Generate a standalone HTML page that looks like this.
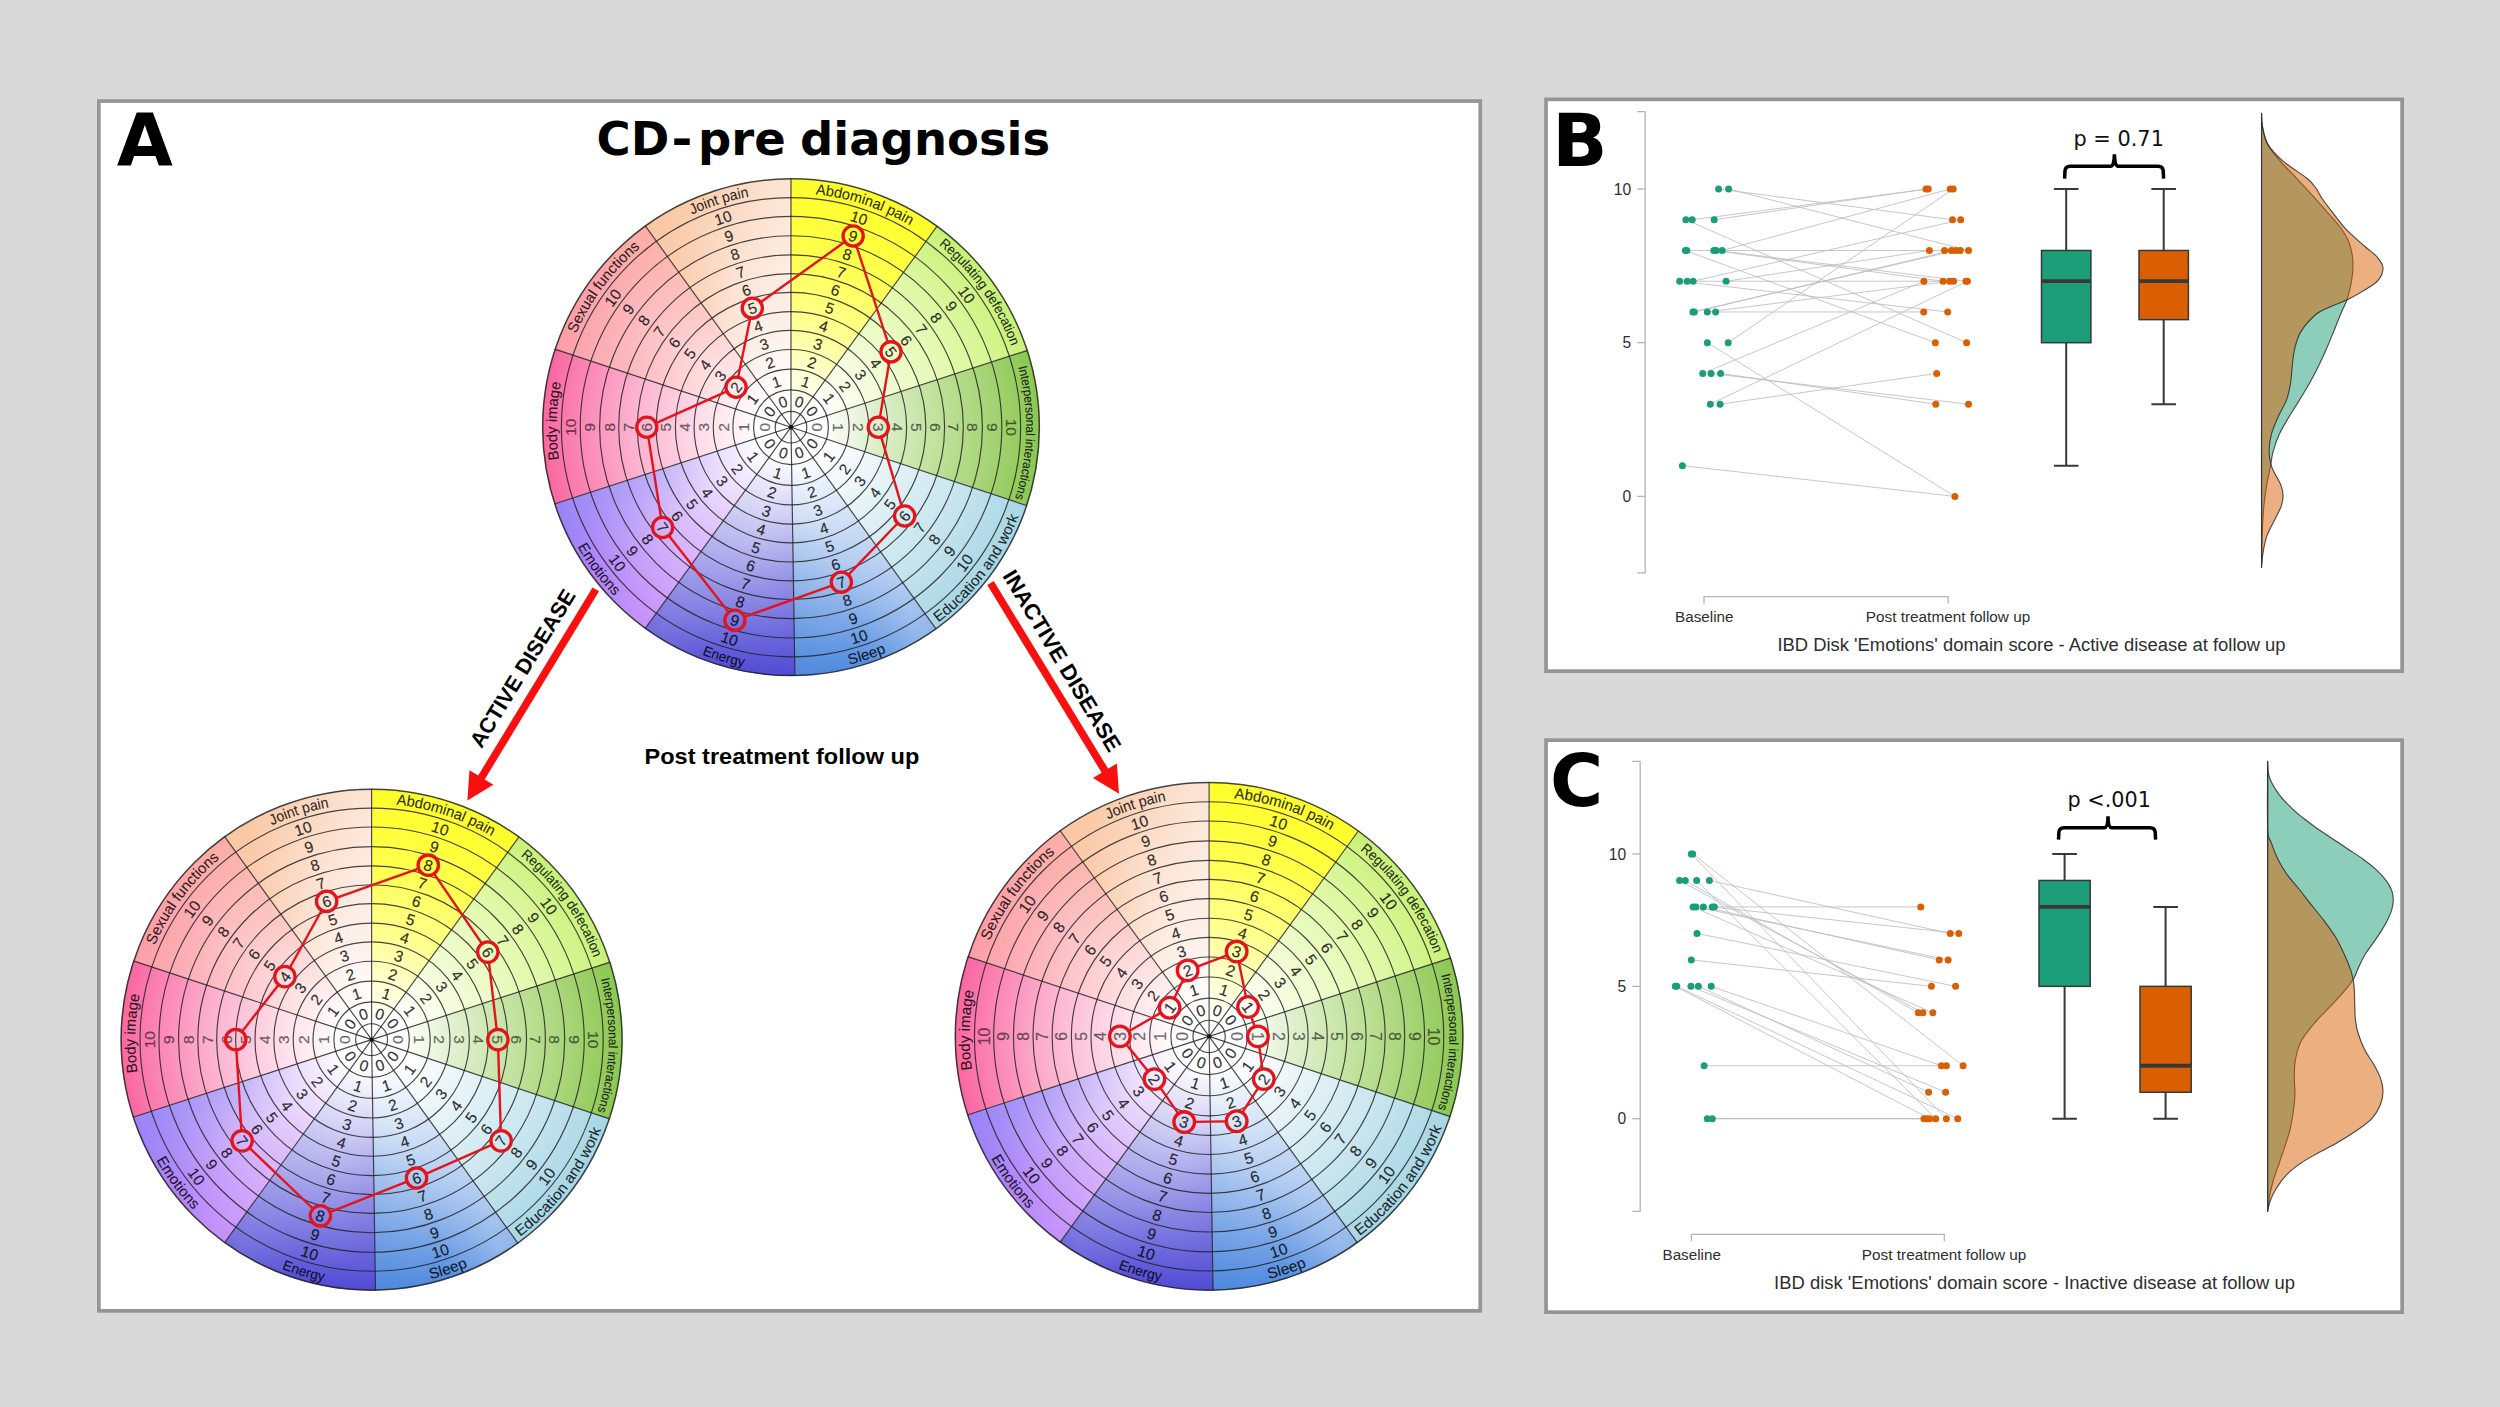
<!DOCTYPE html>
<html lang="en">
<head>
<meta charset="utf-8">
<title>IBD Disk figure</title>
<style>
html,body{margin:0;padding:0;background:#d9d9d9;}
body{width:2500px;height:1407px;overflow:hidden;}
svg{display:block;}
</style>
</head>
<body>
<svg width="2500" height="1407" viewBox="0 0 2500 1407">
<defs>
<radialGradient id="g0_18" gradientUnits="userSpaceOnUse" cx="791" cy="427.2" r="248.75"><stop offset="0" stop-color="#ffffff"/><stop offset="0.08" stop-color="#ffffff"/><stop offset="0.25" stop-color="#ffffc8"/><stop offset="0.45" stop-color="#ffff8a"/><stop offset="0.7" stop-color="#ffff4e"/><stop offset="0.88" stop-color="#ffff34"/><stop offset="1" stop-color="#fdfd2c"/></radialGradient>
<radialGradient id="g0_54" gradientUnits="userSpaceOnUse" cx="791" cy="427.2" r="248.75"><stop offset="0" stop-color="#ffffff"/><stop offset="0.12" stop-color="#ffffff"/><stop offset="0.4" stop-color="#f2fcd6"/><stop offset="0.7" stop-color="#e1f9aa"/><stop offset="1" stop-color="#c8f177"/></radialGradient>
<radialGradient id="g0_90" gradientUnits="userSpaceOnUse" cx="791" cy="427.2" r="248.75"><stop offset="0" stop-color="#ffffff"/><stop offset="0.12" stop-color="#ffffff"/><stop offset="0.35" stop-color="#deefcb"/><stop offset="0.65" stop-color="#b9de90"/><stop offset="1" stop-color="#8cc752"/></radialGradient>
<radialGradient id="g0_126" gradientUnits="userSpaceOnUse" cx="791" cy="427.2" r="248.75"><stop offset="0" stop-color="#ffffff"/><stop offset="0.15" stop-color="#ffffff"/><stop offset="0.4" stop-color="#e8f4f8"/><stop offset="0.7" stop-color="#c9e6ef"/><stop offset="1" stop-color="#a6d6e4"/></radialGradient>
<radialGradient id="g0_162" gradientUnits="userSpaceOnUse" cx="791" cy="427.2" r="248.75"><stop offset="0" stop-color="#ffffff"/><stop offset="0.12" stop-color="#ffffff"/><stop offset="0.35" stop-color="#dae7f8"/><stop offset="0.65" stop-color="#a3c2ef"/><stop offset="1" stop-color="#558fe0"/></radialGradient>
<radialGradient id="g0_198" gradientUnits="userSpaceOnUse" cx="791" cy="427.2" r="248.75"><stop offset="0" stop-color="#ffffff"/><stop offset="0.12" stop-color="#ffffff"/><stop offset="0.35" stop-color="#d8d6f6"/><stop offset="0.65" stop-color="#9c99ea"/><stop offset="1" stop-color="#554fd7"/></radialGradient>
<radialGradient id="g0_234" gradientUnits="userSpaceOnUse" cx="791" cy="427.2" r="248.75"><stop offset="0" stop-color="#ffffff"/><stop offset="0.12" stop-color="#ffffff"/><stop offset="0.35" stop-color="#eddffd"/><stop offset="0.65" stop-color="#d2b5fb"/><stop offset="1" stop-color="#ae80f8"/></radialGradient>
<radialGradient id="g0_270" gradientUnits="userSpaceOnUse" cx="791" cy="427.2" r="248.75"><stop offset="0" stop-color="#ffffff"/><stop offset="0.12" stop-color="#ffffff"/><stop offset="0.35" stop-color="#fee0eb"/><stop offset="0.65" stop-color="#fcb0ce"/><stop offset="0.9" stop-color="#fb7cae"/><stop offset="1" stop-color="#fa66a1"/></radialGradient>
<radialGradient id="g0_306" gradientUnits="userSpaceOnUse" cx="791" cy="427.2" r="248.75"><stop offset="0" stop-color="#ffffff"/><stop offset="0.12" stop-color="#ffffff"/><stop offset="0.35" stop-color="#fee4e5"/><stop offset="0.65" stop-color="#fdc6c9"/><stop offset="1" stop-color="#fca2a8"/></radialGradient>
<radialGradient id="g0_342" gradientUnits="userSpaceOnUse" cx="791" cy="427.2" r="248.75"><stop offset="0" stop-color="#ffffff"/><stop offset="0.12" stop-color="#ffffff"/><stop offset="0.35" stop-color="#fef2ec"/><stop offset="0.65" stop-color="#fde5d7"/><stop offset="1" stop-color="#fbd3b7"/></radialGradient>
<radialGradient id="mg0" gradientUnits="userSpaceOnUse" cx="791" cy="427.2" r="248.75"><stop offset="0.12" stop-color="#000"/><stop offset="0.6" stop-color="#fff"/></radialGradient>
<mask id="mk0" maskUnits="userSpaceOnUse" x="542.25" y="178.45" width="497.5" height="497.5"><circle cx="791" cy="427.2" r="248.75" fill="url(#mg0)"/></mask>
<linearGradient id="t0_342" gradientUnits="userSpaceOnUse" x1="681.6" y1="276.08" x2="791" y2="240.64"><stop offset="0" stop-color="#f9b98c" stop-opacity="0.45"/><stop offset="0.5" stop-color="#f9b98c" stop-opacity="0"/><stop offset="0.5" stop-color="#ffffff" stop-opacity="0"/><stop offset="1" stop-color="#ffffff" stop-opacity="0.35"/></linearGradient>
<linearGradient id="t0_162" gradientUnits="userSpaceOnUse" x1="899.87" y1="578.7" x2="793.93" y2="613.74"><stop offset="0" stop-color="#ffffff" stop-opacity="0.35"/><stop offset="0.5" stop-color="#ffffff" stop-opacity="0"/><stop offset="0.5" stop-color="#3f78da" stop-opacity="0"/><stop offset="1" stop-color="#3f78da" stop-opacity="0.25"/></linearGradient>
<linearGradient id="t0_198" gradientUnits="userSpaceOnUse" x1="793.93" y1="613.74" x2="681.6" y2="578.32"><stop offset="0" stop-color="#4038cc" stop-opacity="0.18"/><stop offset="0.5" stop-color="#4038cc" stop-opacity="0"/><stop offset="0.5" stop-color="#ffffff" stop-opacity="0"/><stop offset="1" stop-color="#ffffff" stop-opacity="0.16"/></linearGradient>
<linearGradient id="t0_234" gradientUnits="userSpaceOnUse" x1="681.6" y1="578.32" x2="613.57" y2="484.85"><stop offset="0" stop-color="#f0b4ff" stop-opacity="0.3"/><stop offset="0.5" stop-color="#f0b4ff" stop-opacity="0"/><stop offset="0.5" stop-color="#7f86f4" stop-opacity="0"/><stop offset="1" stop-color="#7f86f4" stop-opacity="0.4"/></linearGradient>
<linearGradient id="t0_306" gradientUnits="userSpaceOnUse" x1="613.87" y1="368.62" x2="681.6" y2="276.08"><stop offset="0" stop-color="#ff8aa0" stop-opacity="0.18"/><stop offset="0.5" stop-color="#ff8aa0" stop-opacity="0"/><stop offset="0.5" stop-color="#fbc0a0" stop-opacity="0"/><stop offset="1" stop-color="#fbc0a0" stop-opacity="0.3"/></linearGradient>
<path id="p0_18" d="M792.64 192.93A234.27 234.27 0 0 1 929.36 238.15"/>
<path id="p0_54" d="M930.56 238.59A234.63 234.63 0 0 1 1014.52 355.86"/>
<path id="p0_90" d="M1016.38 360.44A235.06 235.06 0 0 1 1012.85 504.89"/>
<path id="p0_126" d="M930.88 627.71A244.48 244.48 0 0 0 1021.74 508"/>
<path id="p0_162" d="M793.13 671.67A244.48 244.48 0 0 0 935.73 624.23"/>
<path id="p0_198" d="M653.83 629.05A244.05 244.05 0 0 0 797.81 671.15"/>
<path id="p0_234" d="M559.22 504.98A244.48 244.48 0 0 0 648.51 625.86"/>
<path id="p0_270" d="M566.26 493.34A234.27 234.27 0 0 1 570.03 349.38"/>
<path id="p0_306" d="M569.29 351.51A234.27 234.27 0 0 1 655.46 236.12"/>
<path id="p0_342" d="M654.79 236.59A234.27 234.27 0 0 1 792.02 192.93"/>
<radialGradient id="g1_18" gradientUnits="userSpaceOnUse" cx="371.6" cy="1039.65" r="250.9"><stop offset="0" stop-color="#ffffff"/><stop offset="0.08" stop-color="#ffffff"/><stop offset="0.25" stop-color="#ffffc8"/><stop offset="0.45" stop-color="#ffff8a"/><stop offset="0.7" stop-color="#ffff4e"/><stop offset="0.88" stop-color="#ffff34"/><stop offset="1" stop-color="#fdfd2c"/></radialGradient>
<radialGradient id="g1_54" gradientUnits="userSpaceOnUse" cx="371.6" cy="1039.65" r="250.9"><stop offset="0" stop-color="#ffffff"/><stop offset="0.12" stop-color="#ffffff"/><stop offset="0.4" stop-color="#f2fcd6"/><stop offset="0.7" stop-color="#e1f9aa"/><stop offset="1" stop-color="#c8f177"/></radialGradient>
<radialGradient id="g1_90" gradientUnits="userSpaceOnUse" cx="371.6" cy="1039.65" r="250.9"><stop offset="0" stop-color="#ffffff"/><stop offset="0.12" stop-color="#ffffff"/><stop offset="0.35" stop-color="#deefcb"/><stop offset="0.65" stop-color="#b9de90"/><stop offset="1" stop-color="#8cc752"/></radialGradient>
<radialGradient id="g1_126" gradientUnits="userSpaceOnUse" cx="371.6" cy="1039.65" r="250.9"><stop offset="0" stop-color="#ffffff"/><stop offset="0.15" stop-color="#ffffff"/><stop offset="0.4" stop-color="#e8f4f8"/><stop offset="0.7" stop-color="#c9e6ef"/><stop offset="1" stop-color="#a6d6e4"/></radialGradient>
<radialGradient id="g1_162" gradientUnits="userSpaceOnUse" cx="371.6" cy="1039.65" r="250.9"><stop offset="0" stop-color="#ffffff"/><stop offset="0.12" stop-color="#ffffff"/><stop offset="0.35" stop-color="#dae7f8"/><stop offset="0.65" stop-color="#a3c2ef"/><stop offset="1" stop-color="#558fe0"/></radialGradient>
<radialGradient id="g1_198" gradientUnits="userSpaceOnUse" cx="371.6" cy="1039.65" r="250.9"><stop offset="0" stop-color="#ffffff"/><stop offset="0.12" stop-color="#ffffff"/><stop offset="0.35" stop-color="#d8d6f6"/><stop offset="0.65" stop-color="#9c99ea"/><stop offset="1" stop-color="#554fd7"/></radialGradient>
<radialGradient id="g1_234" gradientUnits="userSpaceOnUse" cx="371.6" cy="1039.65" r="250.9"><stop offset="0" stop-color="#ffffff"/><stop offset="0.12" stop-color="#ffffff"/><stop offset="0.35" stop-color="#eddffd"/><stop offset="0.65" stop-color="#d2b5fb"/><stop offset="1" stop-color="#ae80f8"/></radialGradient>
<radialGradient id="g1_270" gradientUnits="userSpaceOnUse" cx="371.6" cy="1039.65" r="250.9"><stop offset="0" stop-color="#ffffff"/><stop offset="0.12" stop-color="#ffffff"/><stop offset="0.35" stop-color="#fee0eb"/><stop offset="0.65" stop-color="#fcb0ce"/><stop offset="0.9" stop-color="#fb7cae"/><stop offset="1" stop-color="#fa66a1"/></radialGradient>
<radialGradient id="g1_306" gradientUnits="userSpaceOnUse" cx="371.6" cy="1039.65" r="250.9"><stop offset="0" stop-color="#ffffff"/><stop offset="0.12" stop-color="#ffffff"/><stop offset="0.35" stop-color="#fee4e5"/><stop offset="0.65" stop-color="#fdc6c9"/><stop offset="1" stop-color="#fca2a8"/></radialGradient>
<radialGradient id="g1_342" gradientUnits="userSpaceOnUse" cx="371.6" cy="1039.65" r="250.9"><stop offset="0" stop-color="#ffffff"/><stop offset="0.12" stop-color="#ffffff"/><stop offset="0.35" stop-color="#fef2ec"/><stop offset="0.65" stop-color="#fde5d7"/><stop offset="1" stop-color="#fbd3b7"/></radialGradient>
<radialGradient id="mg1" gradientUnits="userSpaceOnUse" cx="371.6" cy="1039.65" r="250.9"><stop offset="0.12" stop-color="#000"/><stop offset="0.6" stop-color="#fff"/></radialGradient>
<mask id="mk1" maskUnits="userSpaceOnUse" x="120.7" y="788.75" width="501.8" height="501.8"><circle cx="371.6" cy="1039.65" r="250.9" fill="url(#mg1)"/></mask>
<linearGradient id="t1_342" gradientUnits="userSpaceOnUse" x1="261.26" y1="887.22" x2="371.6" y2="851.48"><stop offset="0" stop-color="#f9b98c" stop-opacity="0.45"/><stop offset="0.5" stop-color="#f9b98c" stop-opacity="0"/><stop offset="0.5" stop-color="#ffffff" stop-opacity="0"/><stop offset="1" stop-color="#ffffff" stop-opacity="0.35"/></linearGradient>
<linearGradient id="t1_162" gradientUnits="userSpaceOnUse" x1="481.41" y1="1192.46" x2="374.56" y2="1227.8"><stop offset="0" stop-color="#ffffff" stop-opacity="0.35"/><stop offset="0.5" stop-color="#ffffff" stop-opacity="0"/><stop offset="0.5" stop-color="#3f78da" stop-opacity="0"/><stop offset="1" stop-color="#3f78da" stop-opacity="0.25"/></linearGradient>
<linearGradient id="t1_198" gradientUnits="userSpaceOnUse" x1="374.56" y1="1227.8" x2="261.26" y2="1192.08"><stop offset="0" stop-color="#4038cc" stop-opacity="0.18"/><stop offset="0.5" stop-color="#4038cc" stop-opacity="0"/><stop offset="0.5" stop-color="#ffffff" stop-opacity="0"/><stop offset="1" stop-color="#ffffff" stop-opacity="0.16"/></linearGradient>
<linearGradient id="t1_234" gradientUnits="userSpaceOnUse" x1="261.26" y1="1192.08" x2="192.63" y2="1097.8"><stop offset="0" stop-color="#f0b4ff" stop-opacity="0.3"/><stop offset="0.5" stop-color="#f0b4ff" stop-opacity="0"/><stop offset="0.5" stop-color="#7f86f4" stop-opacity="0"/><stop offset="1" stop-color="#7f86f4" stop-opacity="0.4"/></linearGradient>
<linearGradient id="t1_306" gradientUnits="userSpaceOnUse" x1="192.94" y1="980.56" x2="261.26" y2="887.22"><stop offset="0" stop-color="#ff8aa0" stop-opacity="0.18"/><stop offset="0.5" stop-color="#ff8aa0" stop-opacity="0"/><stop offset="0.5" stop-color="#fbc0a0" stop-opacity="0"/><stop offset="1" stop-color="#fbc0a0" stop-opacity="0.3"/></linearGradient>
<path id="p1_18" d="M373.25 803.36A236.3 236.3 0 0 1 511.16 848.97"/>
<path id="p1_54" d="M512.37 849.41A236.66 236.66 0 0 1 597.06 967.7"/>
<path id="p1_90" d="M598.93 972.31A237.1 237.1 0 0 1 595.37 1118.01"/>
<path id="p1_126" d="M512.68 1241.89A246.59 246.59 0 0 0 604.33 1121.15"/>
<path id="p1_162" d="M373.75 1286.23A246.59 246.59 0 0 0 517.58 1238.38"/>
<path id="p1_198" d="M233.24 1243.24A246.15 246.15 0 0 0 378.47 1285.71"/>
<path id="p1_234" d="M137.82 1118.1A246.59 246.59 0 0 0 227.88 1240.03"/>
<path id="p1_270" d="M144.92 1106.37A236.3 236.3 0 0 1 148.72 961.16"/>
<path id="p1_306" d="M147.98 963.3A236.3 236.3 0 0 1 234.89 846.92"/>
<path id="p1_342" d="M234.21 847.4A236.3 236.3 0 0 1 372.63 803.36"/>
<radialGradient id="g2_18" gradientUnits="userSpaceOnUse" cx="1209.1" cy="1036.4" r="254.2"><stop offset="0" stop-color="#ffffff"/><stop offset="0.08" stop-color="#ffffff"/><stop offset="0.25" stop-color="#ffffc8"/><stop offset="0.45" stop-color="#ffff8a"/><stop offset="0.7" stop-color="#ffff4e"/><stop offset="0.88" stop-color="#ffff34"/><stop offset="1" stop-color="#fdfd2c"/></radialGradient>
<radialGradient id="g2_54" gradientUnits="userSpaceOnUse" cx="1209.1" cy="1036.4" r="254.2"><stop offset="0" stop-color="#ffffff"/><stop offset="0.12" stop-color="#ffffff"/><stop offset="0.4" stop-color="#f2fcd6"/><stop offset="0.7" stop-color="#e1f9aa"/><stop offset="1" stop-color="#c8f177"/></radialGradient>
<radialGradient id="g2_90" gradientUnits="userSpaceOnUse" cx="1209.1" cy="1036.4" r="254.2"><stop offset="0" stop-color="#ffffff"/><stop offset="0.12" stop-color="#ffffff"/><stop offset="0.35" stop-color="#deefcb"/><stop offset="0.65" stop-color="#b9de90"/><stop offset="1" stop-color="#8cc752"/></radialGradient>
<radialGradient id="g2_126" gradientUnits="userSpaceOnUse" cx="1209.1" cy="1036.4" r="254.2"><stop offset="0" stop-color="#ffffff"/><stop offset="0.15" stop-color="#ffffff"/><stop offset="0.4" stop-color="#e8f4f8"/><stop offset="0.7" stop-color="#c9e6ef"/><stop offset="1" stop-color="#a6d6e4"/></radialGradient>
<radialGradient id="g2_162" gradientUnits="userSpaceOnUse" cx="1209.1" cy="1036.4" r="254.2"><stop offset="0" stop-color="#ffffff"/><stop offset="0.12" stop-color="#ffffff"/><stop offset="0.35" stop-color="#dae7f8"/><stop offset="0.65" stop-color="#a3c2ef"/><stop offset="1" stop-color="#558fe0"/></radialGradient>
<radialGradient id="g2_198" gradientUnits="userSpaceOnUse" cx="1209.1" cy="1036.4" r="254.2"><stop offset="0" stop-color="#ffffff"/><stop offset="0.12" stop-color="#ffffff"/><stop offset="0.35" stop-color="#d8d6f6"/><stop offset="0.65" stop-color="#9c99ea"/><stop offset="1" stop-color="#554fd7"/></radialGradient>
<radialGradient id="g2_234" gradientUnits="userSpaceOnUse" cx="1209.1" cy="1036.4" r="254.2"><stop offset="0" stop-color="#ffffff"/><stop offset="0.12" stop-color="#ffffff"/><stop offset="0.35" stop-color="#eddffd"/><stop offset="0.65" stop-color="#d2b5fb"/><stop offset="1" stop-color="#ae80f8"/></radialGradient>
<radialGradient id="g2_270" gradientUnits="userSpaceOnUse" cx="1209.1" cy="1036.4" r="254.2"><stop offset="0" stop-color="#ffffff"/><stop offset="0.12" stop-color="#ffffff"/><stop offset="0.35" stop-color="#fee0eb"/><stop offset="0.65" stop-color="#fcb0ce"/><stop offset="0.9" stop-color="#fb7cae"/><stop offset="1" stop-color="#fa66a1"/></radialGradient>
<radialGradient id="g2_306" gradientUnits="userSpaceOnUse" cx="1209.1" cy="1036.4" r="254.2"><stop offset="0" stop-color="#ffffff"/><stop offset="0.12" stop-color="#ffffff"/><stop offset="0.35" stop-color="#fee4e5"/><stop offset="0.65" stop-color="#fdc6c9"/><stop offset="1" stop-color="#fca2a8"/></radialGradient>
<radialGradient id="g2_342" gradientUnits="userSpaceOnUse" cx="1209.1" cy="1036.4" r="254.2"><stop offset="0" stop-color="#ffffff"/><stop offset="0.12" stop-color="#ffffff"/><stop offset="0.35" stop-color="#fef2ec"/><stop offset="0.65" stop-color="#fde5d7"/><stop offset="1" stop-color="#fbd3b7"/></radialGradient>
<radialGradient id="mg2" gradientUnits="userSpaceOnUse" cx="1209.1" cy="1036.4" r="254.2"><stop offset="0.12" stop-color="#000"/><stop offset="0.6" stop-color="#fff"/></radialGradient>
<mask id="mk2" maskUnits="userSpaceOnUse" x="954.9" y="782.2" width="508.4" height="508.4"><circle cx="1209.1" cy="1036.4" r="254.2" fill="url(#mg2)"/></mask>
<linearGradient id="t2_342" gradientUnits="userSpaceOnUse" x1="1097.31" y1="881.97" x2="1209.1" y2="845.75"><stop offset="0" stop-color="#f9b98c" stop-opacity="0.45"/><stop offset="0.5" stop-color="#f9b98c" stop-opacity="0"/><stop offset="0.5" stop-color="#ffffff" stop-opacity="0"/><stop offset="1" stop-color="#ffffff" stop-opacity="0.35"/></linearGradient>
<linearGradient id="t2_162" gradientUnits="userSpaceOnUse" x1="1320.35" y1="1191.22" x2="1212.09" y2="1227.03"><stop offset="0" stop-color="#ffffff" stop-opacity="0.35"/><stop offset="0.5" stop-color="#ffffff" stop-opacity="0"/><stop offset="0.5" stop-color="#3f78da" stop-opacity="0"/><stop offset="1" stop-color="#3f78da" stop-opacity="0.25"/></linearGradient>
<linearGradient id="t2_198" gradientUnits="userSpaceOnUse" x1="1212.09" y1="1227.03" x2="1097.31" y2="1190.83"><stop offset="0" stop-color="#4038cc" stop-opacity="0.18"/><stop offset="0.5" stop-color="#4038cc" stop-opacity="0"/><stop offset="0.5" stop-color="#ffffff" stop-opacity="0"/><stop offset="1" stop-color="#ffffff" stop-opacity="0.16"/></linearGradient>
<linearGradient id="t2_234" gradientUnits="userSpaceOnUse" x1="1097.31" y1="1190.83" x2="1027.78" y2="1095.31"><stop offset="0" stop-color="#f0b4ff" stop-opacity="0.3"/><stop offset="0.5" stop-color="#f0b4ff" stop-opacity="0"/><stop offset="0.5" stop-color="#7f86f4" stop-opacity="0"/><stop offset="1" stop-color="#7f86f4" stop-opacity="0.4"/></linearGradient>
<linearGradient id="t2_306" gradientUnits="userSpaceOnUse" x1="1028.09" y1="976.54" x2="1097.31" y2="881.97"><stop offset="0" stop-color="#ff8aa0" stop-opacity="0.18"/><stop offset="0.5" stop-color="#ff8aa0" stop-opacity="0"/><stop offset="0.5" stop-color="#fbc0a0" stop-opacity="0"/><stop offset="1" stop-color="#fbc0a0" stop-opacity="0.3"/></linearGradient>
<path id="p2_18" d="M1210.77 797A239.4 239.4 0 0 1 1350.49 843.21"/>
<path id="p2_54" d="M1351.72 843.66A239.77 239.77 0 0 1 1437.52 963.5"/>
<path id="p2_90" d="M1439.42 968.18A240.21 240.21 0 0 1 1435.81 1115.79"/>
<path id="p2_126" d="M1352.04 1241.29A249.83 249.83 0 0 0 1444.89 1118.97"/>
<path id="p2_162" d="M1211.28 1286.22A249.83 249.83 0 0 0 1357 1237.74"/>
<path id="p2_198" d="M1068.93 1242.66A249.38 249.38 0 0 0 1216.06 1285.69"/>
<path id="p2_234" d="M972.25 1115.88A249.83 249.83 0 0 0 1063.49 1239.41"/>
<path id="p2_270" d="M979.44 1103.99A239.4 239.4 0 0 1 983.29 956.88"/>
<path id="p2_306" d="M982.54 959.05A239.4 239.4 0 0 1 1070.59 841.13"/>
<path id="p2_342" d="M1069.91 841.62A239.4 239.4 0 0 1 1210.14 797"/>
</defs>
<rect width="2500" height="1407" fill="#d9d9d9"/>
<rect x="98.85" y="101.05" width="1381.4" height="1209.8" fill="#fff" stroke="#959595" stroke-width="3.7"/>
<rect x="1546.05" y="99.35" width="856.1" height="571.8" fill="#fff" stroke="#959595" stroke-width="3.7"/>
<rect x="1546.05" y="740.15" width="856.1" height="572" fill="#fff" stroke="#959595" stroke-width="3.7"/>
<g font-family="'DejaVu Sans', Verdana, sans-serif" font-weight="bold" fill="#000">
<text x="116.8" y="165.7" font-size="72.5">A</text>
<text x="1552.2" y="165.8" font-size="72.5">B</text>
<text x="1550" y="805.5" font-size="72.5">C</text>
<text y="155" font-size="46.5" xml:space="preserve"><tspan x="596.6">CD</tspan><tspan x="671.6" textLength="21" lengthAdjust="spacingAndGlyphs">-</tspan><tspan x="698">pre </tspan><tspan x="800">diagnosis</tspan></text>
</g>
<path d="M791 427.2L791 178.45A248.75 248.75 0 0 1 937.21 225.96Z" fill="url(#g0_18)"/>
<path d="M791 427.2L937.21 225.96A248.75 248.75 0 0 1 1027.58 350.33Z" fill="url(#g0_54)"/>
<path d="M791 427.2L1027.58 350.33A248.75 248.75 0 0 1 1027.03 505.72Z" fill="url(#g0_90)"/>
<path d="M791 427.2L1027.03 505.72A248.75 248.75 0 0 1 936.16 629.21Z" fill="url(#g0_126)"/>
<path d="M791 427.2L936.16 629.21A248.75 248.75 0 0 1 794.91 675.92Z" fill="url(#g0_162)"/>
<path d="M791 427.2L794.91 675.92A248.75 248.75 0 0 1 645.14 628.7Z" fill="url(#g0_198)"/>
<path d="M791 427.2L645.14 628.7A248.75 248.75 0 0 1 554.42 504.07Z" fill="url(#g0_234)"/>
<path d="M791 427.2L554.42 504.07A248.75 248.75 0 0 1 554.83 349.09Z" fill="url(#g0_270)"/>
<path d="M791 427.2L554.83 349.09A248.75 248.75 0 0 1 645.14 225.7Z" fill="url(#g0_306)"/>
<path d="M791 427.2L645.14 225.7A248.75 248.75 0 0 1 791 178.45Z" fill="url(#g0_342)"/>
<g mask="url(#mk0)">
<path d="M791 427.2L645.14 225.7A248.75 248.75 0 0 1 791 178.45Z" fill="url(#t0_342)"/>
<path d="M791 427.2L936.16 629.21A248.75 248.75 0 0 1 794.91 675.92Z" fill="url(#t0_162)"/>
<path d="M791 427.2L794.91 675.92A248.75 248.75 0 0 1 645.14 628.7Z" fill="url(#t0_198)"/>
<path d="M791 427.2L645.14 628.7A248.75 248.75 0 0 1 554.42 504.07Z" fill="url(#t0_234)"/>
<path d="M791 427.2L554.83 349.09A248.75 248.75 0 0 1 645.14 225.7Z" fill="url(#t0_306)"/>
</g>
<g fill="none" stroke="#1e1e1e" stroke-opacity="0.82" stroke-width="1.15">
<circle cx="791" cy="427.2" r="15.8"/>
<circle cx="791" cy="427.2" r="37.4"/>
<circle cx="791" cy="427.2" r="58.1"/>
<circle cx="791" cy="427.2" r="77.7"/>
<circle cx="791" cy="427.2" r="96.9"/>
<circle cx="791" cy="427.2" r="115.6"/>
<circle cx="791" cy="427.2" r="134.8"/>
<circle cx="791" cy="427.2" r="153.6"/>
<circle cx="791" cy="427.2" r="172.3"/>
<circle cx="791" cy="427.2" r="191.4"/>
<circle cx="791" cy="427.2" r="210.8"/>
<circle cx="791" cy="427.2" r="229.6"/>
<circle cx="791" cy="427.2" r="248.35" stroke-width="1.5"/>
<path d="M791 427.2L791 178.45"/>
<path d="M791 427.2L937.21 225.96"/>
<path d="M791 427.2L1027.58 350.33"/>
<path d="M791 427.2L1027.03 505.72"/>
<path d="M791 427.2L936.16 629.21"/>
<path d="M791 427.2L794.91 675.92"/>
<path d="M791 427.2L645.14 628.7"/>
<path d="M791 427.2L554.42 504.07"/>
<path d="M791 427.2L554.83 349.09"/>
<path d="M791 427.2L645.14 225.7"/>
</g>
<circle cx="791" cy="427.2" r="2.2" fill="#111"/>
<g font-family="'Liberation Sans', Arial, sans-serif" font-size="15.4" text-anchor="middle" fill="#000" fill-opacity="0.8" stroke="#000" stroke-opacity="0.5" stroke-width="0.3">
<text transform="translate(799.22 401.9) rotate(18)" y="5.54">0</text>
<text transform="translate(805.76 381.79) rotate(18)" y="5.54">1</text>
<text transform="translate(811.98 362.62) rotate(18)" y="5.54">2</text>
<text transform="translate(817.98 344.17) rotate(18)" y="5.54">3</text>
<text transform="translate(823.83 326.15) rotate(18)" y="5.54">4</text>
<text transform="translate(829.69 308.13) rotate(18)" y="5.54">5</text>
<text transform="translate(835.56 290.06) rotate(18)" y="5.54">6</text>
<text transform="translate(841.35 272.23) rotate(18)" y="5.54">7</text>
<text transform="translate(847.19 254.25) rotate(18)" y="5.54">8</text>
<text transform="translate(853.14 235.94) rotate(18)" y="5.54">9</text>
<text transform="translate(859.05 217.78) rotate(18)" y="5.54">10</text>
<text transform="translate(812.24 411.19) rotate(54)" y="5.54">0</text>
<text transform="translate(829.13 398.46) rotate(54)" y="5.54">1</text>
<text transform="translate(845.23 386.34) rotate(54)" y="5.54">2</text>
<text transform="translate(860.72 374.66) rotate(54)" y="5.54">3</text>
<text transform="translate(875.86 363.26) rotate(54)" y="5.54">4</text>
<text transform="translate(890.99 351.85) rotate(54)" y="5.54">5</text>
<text transform="translate(906.16 340.42) rotate(54)" y="5.54">6</text>
<text transform="translate(921.14 329.13) rotate(54)" y="5.54">7</text>
<text transform="translate(936.23 317.76) rotate(54)" y="5.54">8</text>
<text transform="translate(951.61 306.17) rotate(54)" y="5.54">9</text>
<text transform="translate(966.86 294.68) rotate(54)" y="5.54">10</text>
<text transform="translate(817.6 427.2) rotate(90)" y="5.54" fill-opacity="0.55">0</text>
<text transform="translate(838.75 427.2) rotate(90)" y="5.54" fill-opacity="0.55">1</text>
<text transform="translate(858.9 427.2) rotate(90)" y="5.54" fill-opacity="0.55">2</text>
<text transform="translate(878.3 427.2) rotate(90)" y="5.54" fill-opacity="0.55">3</text>
<text transform="translate(897.25 427.2) rotate(90)" y="5.54" fill-opacity="0.55">4</text>
<text transform="translate(916.2 427.2) rotate(90)" y="5.54" fill-opacity="0.55">5</text>
<text transform="translate(935.2 427.2) rotate(90)" y="5.54" fill-opacity="0.55">6</text>
<text transform="translate(953.95 427.2) rotate(90)" y="5.54" fill-opacity="0.55">7</text>
<text transform="translate(972.85 427.2) rotate(90)" y="5.54" fill-opacity="0.55">8</text>
<text transform="translate(992.1 427.2) rotate(90)" y="5.54" fill-opacity="0.55">9</text>
<text transform="translate(1011.2 427.2) rotate(90)" y="5.54" fill-opacity="0.55">10</text>
<text transform="translate(811.96 443.58) rotate(-54)" y="5.54">0</text>
<text transform="translate(828.63 456.6) rotate(-54)" y="5.54">1</text>
<text transform="translate(844.51 469) rotate(-54)" y="5.54">2</text>
<text transform="translate(859.79 480.95) rotate(-54)" y="5.54">3</text>
<text transform="translate(874.73 492.61) rotate(-54)" y="5.54">4</text>
<text transform="translate(889.66 504.28) rotate(-54)" y="5.54">5</text>
<text transform="translate(904.63 515.98) rotate(-54)" y="5.54">6</text>
<text transform="translate(919.41 527.52) rotate(-54)" y="5.54">7</text>
<text transform="translate(934.3 539.16) rotate(-54)" y="5.54">8</text>
<text transform="translate(949.47 551.01) rotate(-54)" y="5.54">9</text>
<text transform="translate(964.52 562.77) rotate(-54)" y="5.54">10</text>
<text transform="translate(799.22 452.5) rotate(-18)" y="5.54">0</text>
<text transform="translate(805.76 472.61) rotate(-18)" y="5.54">1</text>
<text transform="translate(811.98 491.78) rotate(-18)" y="5.54">2</text>
<text transform="translate(817.98 510.23) rotate(-18)" y="5.54">3</text>
<text transform="translate(823.83 528.25) rotate(-18)" y="5.54">4</text>
<text transform="translate(829.69 546.27) rotate(-18)" y="5.54">5</text>
<text transform="translate(835.56 564.34) rotate(-18)" y="5.54">6</text>
<text transform="translate(841.35 582.17) rotate(-18)" y="5.54">7</text>
<text transform="translate(847.19 600.15) rotate(-18)" y="5.54">8</text>
<text transform="translate(853.14 618.46) rotate(-18)" y="5.54">9</text>
<text transform="translate(859.05 636.62) rotate(-18)" y="5.54">10</text>
<text transform="translate(783.58 452.74) rotate(18)" y="5.54">0</text>
<text transform="translate(777.68 473.05) rotate(18)" y="5.54">1</text>
<text transform="translate(772.06 492.4) rotate(18)" y="5.54">2</text>
<text transform="translate(766.64 511.03) rotate(18)" y="5.54">3</text>
<text transform="translate(761.36 529.23) rotate(18)" y="5.54">4</text>
<text transform="translate(756.07 547.43) rotate(18)" y="5.54">5</text>
<text transform="translate(750.77 565.67) rotate(18)" y="5.54">6</text>
<text transform="translate(745.54 583.68) rotate(18)" y="5.54">7</text>
<text transform="translate(740.27 601.83) rotate(18)" y="5.54">8</text>
<text transform="translate(734.89 620.32) rotate(18)" y="5.54">9</text>
<text transform="translate(729.57 638.66) rotate(18)" y="5.54">10</text>
<text transform="translate(770.04 443.58) rotate(54)" y="5.54">0</text>
<text transform="translate(753.37 456.6) rotate(54)" y="5.54">1</text>
<text transform="translate(737.49 469) rotate(54)" y="5.54">2</text>
<text transform="translate(722.21 480.95) rotate(54)" y="5.54">3</text>
<text transform="translate(707.27 492.61) rotate(54)" y="5.54">4</text>
<text transform="translate(692.34 504.28) rotate(54)" y="5.54">5</text>
<text transform="translate(677.37 515.98) rotate(54)" y="5.54">6</text>
<text transform="translate(662.59 527.52) rotate(54)" y="5.54">7</text>
<text transform="translate(647.7 539.16) rotate(54)" y="5.54">8</text>
<text transform="translate(632.53 551.01) rotate(54)" y="5.54">9</text>
<text transform="translate(617.48 562.77) rotate(54)" y="5.54">10</text>
<text transform="translate(764.4 427.2) rotate(-90)" y="5.54" fill-opacity="0.55">0</text>
<text transform="translate(743.25 427.2) rotate(-90)" y="5.54" fill-opacity="0.55">1</text>
<text transform="translate(723.1 427.2) rotate(-90)" y="5.54" fill-opacity="0.55">2</text>
<text transform="translate(703.7 427.2) rotate(-90)" y="5.54" fill-opacity="0.55">3</text>
<text transform="translate(684.75 427.2) rotate(-90)" y="5.54" fill-opacity="0.55">4</text>
<text transform="translate(665.8 427.2) rotate(-90)" y="5.54" fill-opacity="0.55">5</text>
<text transform="translate(646.8 427.2) rotate(-90)" y="5.54" fill-opacity="0.55">6</text>
<text transform="translate(628.05 427.2) rotate(-90)" y="5.54" fill-opacity="0.55">7</text>
<text transform="translate(609.15 427.2) rotate(-90)" y="5.54" fill-opacity="0.55">8</text>
<text transform="translate(589.9 427.2) rotate(-90)" y="5.54" fill-opacity="0.55">9</text>
<text transform="translate(570.8 427.2) rotate(-90)" y="5.54" fill-opacity="0.55">10</text>
<text transform="translate(769.48 411.56) rotate(-54)" y="5.54">0</text>
<text transform="translate(752.37 399.13) rotate(-54)" y="5.54">1</text>
<text transform="translate(736.07 387.29) rotate(-54)" y="5.54">2</text>
<text transform="translate(720.37 375.89) rotate(-54)" y="5.54">3</text>
<text transform="translate(705.04 364.75) rotate(-54)" y="5.54">4</text>
<text transform="translate(689.71 353.61) rotate(-54)" y="5.54">5</text>
<text transform="translate(674.34 342.44) rotate(-54)" y="5.54">6</text>
<text transform="translate(659.17 331.42) rotate(-54)" y="5.54">7</text>
<text transform="translate(643.88 320.31) rotate(-54)" y="5.54">8</text>
<text transform="translate(628.31 309) rotate(-54)" y="5.54">9</text>
<text transform="translate(612.85 297.77) rotate(-54)" y="5.54">10</text>
<text transform="translate(782.78 401.9) rotate(-18)" y="5.54">0</text>
<text transform="translate(776.24 381.79) rotate(-18)" y="5.54">1</text>
<text transform="translate(770.02 362.62) rotate(-18)" y="5.54">2</text>
<text transform="translate(764.02 344.17) rotate(-18)" y="5.54">3</text>
<text transform="translate(758.17 326.15) rotate(-18)" y="5.54">4</text>
<text transform="translate(752.31 308.13) rotate(-18)" y="5.54">5</text>
<text transform="translate(746.44 290.06) rotate(-18)" y="5.54">6</text>
<text transform="translate(740.65 272.23) rotate(-18)" y="5.54">7</text>
<text transform="translate(734.81 254.25) rotate(-18)" y="5.54">8</text>
<text transform="translate(728.86 235.94) rotate(-18)" y="5.54">9</text>
<text transform="translate(722.95 217.78) rotate(-18)" y="5.54">10</text>
</g>
<g font-family="'Liberation Sans', Arial, sans-serif" font-size="14.8" fill="#000" fill-opacity="0.84" stroke="#000" stroke-opacity="0.4" stroke-width="0.25">
<text text-anchor="middle" font-size="14.8" textLength="100.58" lengthAdjust="spacingAndGlyphs"><textPath href="#p0_18" startOffset="50%" textLength="100.58" lengthAdjust="spacingAndGlyphs">Abdominal pain</textPath></text>
<text text-anchor="middle" font-size="13.8" textLength="126.13" lengthAdjust="spacingAndGlyphs"><textPath href="#p0_54" startOffset="50%" textLength="126.13" lengthAdjust="spacingAndGlyphs">Regulating defecation</textPath></text>
<text text-anchor="middle" font-size="12.6" textLength="132.93" lengthAdjust="spacingAndGlyphs"><textPath href="#p0_90" startOffset="50%" textLength="132.93" lengthAdjust="spacingAndGlyphs">Interpersonal interactions</textPath></text>
<text text-anchor="middle" font-size="14.8" textLength="134.84" lengthAdjust="spacingAndGlyphs"><textPath href="#p0_126" startOffset="50%" textLength="134.84" lengthAdjust="spacingAndGlyphs">Education and work</textPath></text>
<text text-anchor="middle" font-size="14.8" textLength="39.26" lengthAdjust="spacingAndGlyphs"><textPath href="#p0_162" startOffset="50%" textLength="39.26" lengthAdjust="spacingAndGlyphs">Sleep</textPath></text>
<text text-anchor="middle" font-size="13.6" textLength="43.45" lengthAdjust="spacingAndGlyphs"><textPath href="#p0_198" startOffset="50%" textLength="43.45" lengthAdjust="spacingAndGlyphs">Energy</textPath></text>
<text text-anchor="middle" font-size="14.8" textLength="61.87" lengthAdjust="spacingAndGlyphs"><textPath href="#p0_234" startOffset="50%" textLength="61.87" lengthAdjust="spacingAndGlyphs">Emotions</textPath></text>
<text text-anchor="middle" font-size="14.8" textLength="77.69" lengthAdjust="spacingAndGlyphs"><textPath href="#p0_270" startOffset="50%" textLength="77.69" lengthAdjust="spacingAndGlyphs">Body image</textPath></text>
<text text-anchor="middle" font-size="14.8" textLength="108.35" lengthAdjust="spacingAndGlyphs"><textPath href="#p0_306" startOffset="50%" textLength="108.35" lengthAdjust="spacingAndGlyphs">Sexual functions</textPath></text>
<text text-anchor="middle" font-size="14.8" textLength="60.11" lengthAdjust="spacingAndGlyphs"><textPath href="#p0_342" startOffset="50%" textLength="60.11" lengthAdjust="spacingAndGlyphs">Joint pain</textPath></text>
</g>
<g fill="none" stroke="#e5141c" stroke-linecap="round">
<path stroke-width="2.4" d="M856.28 245.54L887.85 342.25"/>
<path stroke-width="2.4" d="M889.31 361.81L879.98 417.24"/>
<path stroke-width="2.4" d="M881.17 436.88L901.76 506.3"/>
<path stroke-width="2.4" d="M897.65 523.28L848.33 574.87"/>
<path stroke-width="2.4" d="M831.85 585.58L744.4 616.91"/>
<path stroke-width="2.4" d="M728.69 612.35L668.8 535.49"/>
<path stroke-width="2.4" d="M661.02 517.54L648.37 437.18"/>
<path stroke-width="2.4" d="M656.02 423.08L726.85 391.41"/>
<path stroke-width="2.4" d="M738.1 377.4L750.28 318.02"/>
<path stroke-width="2.4" d="M760.52 302.25L844.93 241.82"/>
<circle cx="853.14" cy="235.94" r="10.1" stroke-width="3.3"/>
<circle cx="890.99" cy="351.85" r="10.1" stroke-width="3.3"/>
<circle cx="878.3" cy="427.2" r="10.1" stroke-width="3.3"/>
<circle cx="904.63" cy="515.98" r="10.1" stroke-width="3.3"/>
<circle cx="841.35" cy="582.17" r="10.1" stroke-width="3.3"/>
<circle cx="734.89" cy="620.32" r="10.1" stroke-width="3.3"/>
<circle cx="662.59" cy="527.52" r="10.1" stroke-width="3.3"/>
<circle cx="646.8" cy="427.2" r="10.1" stroke-width="3.3"/>
<circle cx="736.07" cy="387.29" r="10.1" stroke-width="3.3"/>
<circle cx="752.31" cy="308.13" r="10.1" stroke-width="3.3"/>
</g>
<path d="M371.6 1039.65L371.6 788.75A250.9 250.9 0 0 1 519.08 836.67Z" fill="url(#g1_18)"/>
<path d="M371.6 1039.65L519.08 836.67A250.9 250.9 0 0 1 610.22 962.12Z" fill="url(#g1_54)"/>
<path d="M371.6 1039.65L610.22 962.12A250.9 250.9 0 0 1 609.67 1118.85Z" fill="url(#g1_90)"/>
<path d="M371.6 1039.65L609.67 1118.85A250.9 250.9 0 0 1 518.01 1243.4Z" fill="url(#g1_126)"/>
<path d="M371.6 1039.65L518.01 1243.4A250.9 250.9 0 0 1 375.54 1290.52Z" fill="url(#g1_162)"/>
<path d="M371.6 1039.65L375.54 1290.52A250.9 250.9 0 0 1 224.48 1242.89Z" fill="url(#g1_198)"/>
<path d="M371.6 1039.65L224.48 1242.89A250.9 250.9 0 0 1 132.98 1117.18Z" fill="url(#g1_234)"/>
<path d="M371.6 1039.65L132.98 1117.18A250.9 250.9 0 0 1 133.39 960.87Z" fill="url(#g1_270)"/>
<path d="M371.6 1039.65L133.39 960.87A250.9 250.9 0 0 1 224.48 836.41Z" fill="url(#g1_306)"/>
<path d="M371.6 1039.65L224.48 836.41A250.9 250.9 0 0 1 371.6 788.75Z" fill="url(#g1_342)"/>
<g mask="url(#mk1)">
<path d="M371.6 1039.65L224.48 836.41A250.9 250.9 0 0 1 371.6 788.75Z" fill="url(#t1_342)"/>
<path d="M371.6 1039.65L518.01 1243.4A250.9 250.9 0 0 1 375.54 1290.52Z" fill="url(#t1_162)"/>
<path d="M371.6 1039.65L375.54 1290.52A250.9 250.9 0 0 1 224.48 1242.89Z" fill="url(#t1_198)"/>
<path d="M371.6 1039.65L224.48 1242.89A250.9 250.9 0 0 1 132.98 1117.18Z" fill="url(#t1_234)"/>
<path d="M371.6 1039.65L133.39 960.87A250.9 250.9 0 0 1 224.48 836.41Z" fill="url(#t1_306)"/>
</g>
<g fill="none" stroke="#1e1e1e" stroke-opacity="0.82" stroke-width="1.15">
<circle cx="371.6" cy="1039.65" r="15.94"/>
<circle cx="371.6" cy="1039.65" r="37.72"/>
<circle cx="371.6" cy="1039.65" r="58.6"/>
<circle cx="371.6" cy="1039.65" r="78.37"/>
<circle cx="371.6" cy="1039.65" r="97.74"/>
<circle cx="371.6" cy="1039.65" r="116.6"/>
<circle cx="371.6" cy="1039.65" r="135.97"/>
<circle cx="371.6" cy="1039.65" r="154.93"/>
<circle cx="371.6" cy="1039.65" r="173.79"/>
<circle cx="371.6" cy="1039.65" r="193.05"/>
<circle cx="371.6" cy="1039.65" r="212.62"/>
<circle cx="371.6" cy="1039.65" r="231.58"/>
<circle cx="371.6" cy="1039.65" r="250.5" stroke-width="1.5"/>
<path d="M371.6 1039.65L371.6 788.75"/>
<path d="M371.6 1039.65L519.08 836.67"/>
<path d="M371.6 1039.65L610.22 962.12"/>
<path d="M371.6 1039.65L609.67 1118.85"/>
<path d="M371.6 1039.65L518.01 1243.4"/>
<path d="M371.6 1039.65L375.54 1290.52"/>
<path d="M371.6 1039.65L224.48 1242.89"/>
<path d="M371.6 1039.65L132.98 1117.18"/>
<path d="M371.6 1039.65L133.39 960.87"/>
<path d="M371.6 1039.65L224.48 836.41"/>
</g>
<circle cx="371.6" cy="1039.65" r="2.2" fill="#111"/>
<g font-family="'Liberation Sans', Arial, sans-serif" font-size="15.53" text-anchor="middle" fill="#000" fill-opacity="0.8" stroke="#000" stroke-opacity="0.5" stroke-width="0.3">
<text transform="translate(379.89 1014.13) rotate(18)" y="5.59">0</text>
<text transform="translate(386.48 993.84) rotate(18)" y="5.59">1</text>
<text transform="translate(392.76 974.52) rotate(18)" y="5.59">2</text>
<text transform="translate(398.81 955.91) rotate(18)" y="5.59">3</text>
<text transform="translate(404.72 937.73) rotate(18)" y="5.59">4</text>
<text transform="translate(410.62 919.55) rotate(18)" y="5.59">5</text>
<text transform="translate(416.55 901.32) rotate(18)" y="5.59">6</text>
<text transform="translate(422.39 883.34) rotate(18)" y="5.59">7</text>
<text transform="translate(428.28 865.21) rotate(18)" y="5.59">8</text>
<text transform="translate(434.28 846.74) rotate(18)" y="5.59">9</text>
<text transform="translate(440.23 828.42) rotate(18)" y="5.59">10</text>
<text transform="translate(393.03 1023.5) rotate(54)" y="5.59">0</text>
<text transform="translate(410.06 1010.66) rotate(54)" y="5.59">1</text>
<text transform="translate(426.3 998.43) rotate(54)" y="5.59">2</text>
<text transform="translate(441.92 986.66) rotate(54)" y="5.59">3</text>
<text transform="translate(457.19 975.15) rotate(54)" y="5.59">4</text>
<text transform="translate(472.45 963.65) rotate(54)" y="5.59">5</text>
<text transform="translate(487.76 952.12) rotate(54)" y="5.59">6</text>
<text transform="translate(502.86 940.74) rotate(54)" y="5.59">7</text>
<text transform="translate(518.09 929.26) rotate(54)" y="5.59">8</text>
<text transform="translate(533.59 917.58) rotate(54)" y="5.59">9</text>
<text transform="translate(548.98 905.98) rotate(54)" y="5.59">10</text>
<text transform="translate(398.43 1039.65) rotate(90)" y="5.59" fill-opacity="0.55">0</text>
<text transform="translate(419.76 1039.65) rotate(90)" y="5.59" fill-opacity="0.55">1</text>
<text transform="translate(440.09 1039.65) rotate(90)" y="5.59" fill-opacity="0.55">2</text>
<text transform="translate(459.65 1039.65) rotate(90)" y="5.59" fill-opacity="0.55">3</text>
<text transform="translate(478.77 1039.65) rotate(90)" y="5.59" fill-opacity="0.55">4</text>
<text transform="translate(497.88 1039.65) rotate(90)" y="5.59" fill-opacity="0.55">5</text>
<text transform="translate(517.05 1039.65) rotate(90)" y="5.59" fill-opacity="0.55">6</text>
<text transform="translate(535.96 1039.65) rotate(90)" y="5.59" fill-opacity="0.55">7</text>
<text transform="translate(555.02 1039.65) rotate(90)" y="5.59" fill-opacity="0.55">8</text>
<text transform="translate(574.44 1039.65) rotate(90)" y="5.59" fill-opacity="0.55">9</text>
<text transform="translate(593.7 1039.65) rotate(90)" y="5.59" fill-opacity="0.55">10</text>
<text transform="translate(392.74 1056.17) rotate(-54)" y="5.59">0</text>
<text transform="translate(409.55 1069.3) rotate(-54)" y="5.59">1</text>
<text transform="translate(425.57 1081.81) rotate(-54)" y="5.59">2</text>
<text transform="translate(440.99 1093.86) rotate(-54)" y="5.59">3</text>
<text transform="translate(456.05 1105.63) rotate(-54)" y="5.59">4</text>
<text transform="translate(471.11 1117.4) rotate(-54)" y="5.59">5</text>
<text transform="translate(486.21 1129.2) rotate(-54)" y="5.59">6</text>
<text transform="translate(501.12 1140.84) rotate(-54)" y="5.59">7</text>
<text transform="translate(516.14 1152.58) rotate(-54)" y="5.59">8</text>
<text transform="translate(531.44 1164.53) rotate(-54)" y="5.59">9</text>
<text transform="translate(546.62 1176.39) rotate(-54)" y="5.59">10</text>
<text transform="translate(379.89 1065.17) rotate(-18)" y="5.59">0</text>
<text transform="translate(386.48 1085.46) rotate(-18)" y="5.59">1</text>
<text transform="translate(392.76 1104.78) rotate(-18)" y="5.59">2</text>
<text transform="translate(398.81 1123.39) rotate(-18)" y="5.59">3</text>
<text transform="translate(404.72 1141.57) rotate(-18)" y="5.59">4</text>
<text transform="translate(410.62 1159.75) rotate(-18)" y="5.59">5</text>
<text transform="translate(416.55 1177.98) rotate(-18)" y="5.59">6</text>
<text transform="translate(422.39 1195.96) rotate(-18)" y="5.59">7</text>
<text transform="translate(428.28 1214.09) rotate(-18)" y="5.59">8</text>
<text transform="translate(434.28 1232.56) rotate(-18)" y="5.59">9</text>
<text transform="translate(440.23 1250.88) rotate(-18)" y="5.59">10</text>
<text transform="translate(364.11 1065.41) rotate(18)" y="5.59">0</text>
<text transform="translate(358.16 1085.9) rotate(18)" y="5.59">1</text>
<text transform="translate(352.49 1105.42) rotate(18)" y="5.59">2</text>
<text transform="translate(347.03 1124.21) rotate(18)" y="5.59">3</text>
<text transform="translate(341.7 1142.56) rotate(18)" y="5.59">4</text>
<text transform="translate(336.37 1160.92) rotate(18)" y="5.59">5</text>
<text transform="translate(331.02 1179.32) rotate(18)" y="5.59">6</text>
<text transform="translate(325.75 1197.48) rotate(18)" y="5.59">7</text>
<text transform="translate(320.43 1215.79) rotate(18)" y="5.59">8</text>
<text transform="translate(315.01 1234.43) rotate(18)" y="5.59">9</text>
<text transform="translate(309.64 1252.93) rotate(18)" y="5.59">10</text>
<text transform="translate(350.46 1056.17) rotate(54)" y="5.59">0</text>
<text transform="translate(333.65 1069.3) rotate(54)" y="5.59">1</text>
<text transform="translate(317.63 1081.81) rotate(54)" y="5.59">2</text>
<text transform="translate(302.21 1093.86) rotate(54)" y="5.59">3</text>
<text transform="translate(287.15 1105.63) rotate(54)" y="5.59">4</text>
<text transform="translate(272.09 1117.4) rotate(54)" y="5.59">5</text>
<text transform="translate(256.99 1129.2) rotate(54)" y="5.59">6</text>
<text transform="translate(242.08 1140.84) rotate(54)" y="5.59">7</text>
<text transform="translate(227.06 1152.58) rotate(54)" y="5.59">8</text>
<text transform="translate(211.76 1164.53) rotate(54)" y="5.59">9</text>
<text transform="translate(196.58 1176.39) rotate(54)" y="5.59">10</text>
<text transform="translate(344.77 1039.65) rotate(-90)" y="5.59" fill-opacity="0.55">0</text>
<text transform="translate(323.44 1039.65) rotate(-90)" y="5.59" fill-opacity="0.55">1</text>
<text transform="translate(303.11 1039.65) rotate(-90)" y="5.59" fill-opacity="0.55">2</text>
<text transform="translate(283.55 1039.65) rotate(-90)" y="5.59" fill-opacity="0.55">3</text>
<text transform="translate(264.43 1039.65) rotate(-90)" y="5.59" fill-opacity="0.55">4</text>
<text transform="translate(245.32 1039.65) rotate(-90)" y="5.59" fill-opacity="0.55">5</text>
<text transform="translate(226.15 1039.65) rotate(-90)" y="5.59" fill-opacity="0.55">6</text>
<text transform="translate(207.24 1039.65) rotate(-90)" y="5.59" fill-opacity="0.55">7</text>
<text transform="translate(188.18 1039.65) rotate(-90)" y="5.59" fill-opacity="0.55">8</text>
<text transform="translate(168.76 1039.65) rotate(-90)" y="5.59" fill-opacity="0.55">9</text>
<text transform="translate(149.5 1039.65) rotate(-90)" y="5.59" fill-opacity="0.55">10</text>
<text transform="translate(349.89 1023.88) rotate(-54)" y="5.59">0</text>
<text transform="translate(332.64 1011.34) rotate(-54)" y="5.59">1</text>
<text transform="translate(316.19 999.39) rotate(-54)" y="5.59">2</text>
<text transform="translate(300.36 987.89) rotate(-54)" y="5.59">3</text>
<text transform="translate(284.9 976.66) rotate(-54)" y="5.59">4</text>
<text transform="translate(269.44 965.42) rotate(-54)" y="5.59">5</text>
<text transform="translate(253.93 954.16) rotate(-54)" y="5.59">6</text>
<text transform="translate(238.63 943.04) rotate(-54)" y="5.59">7</text>
<text transform="translate(223.21 931.84) rotate(-54)" y="5.59">8</text>
<text transform="translate(207.5 920.42) rotate(-54)" y="5.59">9</text>
<text transform="translate(191.91 909.1) rotate(-54)" y="5.59">10</text>
<text transform="translate(363.31 1014.13) rotate(-18)" y="5.59">0</text>
<text transform="translate(356.72 993.84) rotate(-18)" y="5.59">1</text>
<text transform="translate(350.44 974.52) rotate(-18)" y="5.59">2</text>
<text transform="translate(344.39 955.91) rotate(-18)" y="5.59">3</text>
<text transform="translate(338.48 937.73) rotate(-18)" y="5.59">4</text>
<text transform="translate(332.58 919.55) rotate(-18)" y="5.59">5</text>
<text transform="translate(326.65 901.32) rotate(-18)" y="5.59">6</text>
<text transform="translate(320.81 883.34) rotate(-18)" y="5.59">7</text>
<text transform="translate(314.92 865.21) rotate(-18)" y="5.59">8</text>
<text transform="translate(308.92 846.74) rotate(-18)" y="5.59">9</text>
<text transform="translate(302.97 828.42) rotate(-18)" y="5.59">10</text>
</g>
<g font-family="'Liberation Sans', Arial, sans-serif" font-size="14.93" fill="#000" fill-opacity="0.84" stroke="#000" stroke-opacity="0.4" stroke-width="0.25">
<text text-anchor="middle" font-size="14.93" textLength="101.45" lengthAdjust="spacingAndGlyphs"><textPath href="#p1_18" startOffset="50%" textLength="101.45" lengthAdjust="spacingAndGlyphs">Abdominal pain</textPath></text>
<text text-anchor="middle" font-size="13.92" textLength="127.22" lengthAdjust="spacingAndGlyphs"><textPath href="#p1_54" startOffset="50%" textLength="127.22" lengthAdjust="spacingAndGlyphs">Regulating defecation</textPath></text>
<text text-anchor="middle" font-size="12.71" textLength="134.07" lengthAdjust="spacingAndGlyphs"><textPath href="#p1_90" startOffset="50%" textLength="134.07" lengthAdjust="spacingAndGlyphs">Interpersonal interactions</textPath></text>
<text text-anchor="middle" font-size="14.93" textLength="136" lengthAdjust="spacingAndGlyphs"><textPath href="#p1_126" startOffset="50%" textLength="136" lengthAdjust="spacingAndGlyphs">Education and work</textPath></text>
<text text-anchor="middle" font-size="14.93" textLength="39.59" lengthAdjust="spacingAndGlyphs"><textPath href="#p1_162" startOffset="50%" textLength="39.59" lengthAdjust="spacingAndGlyphs">Sleep</textPath></text>
<text text-anchor="middle" font-size="13.72" textLength="43.82" lengthAdjust="spacingAndGlyphs"><textPath href="#p1_198" startOffset="50%" textLength="43.82" lengthAdjust="spacingAndGlyphs">Energy</textPath></text>
<text text-anchor="middle" font-size="14.93" textLength="62.4" lengthAdjust="spacingAndGlyphs"><textPath href="#p1_234" startOffset="50%" textLength="62.4" lengthAdjust="spacingAndGlyphs">Emotions</textPath></text>
<text text-anchor="middle" font-size="14.93" textLength="78.36" lengthAdjust="spacingAndGlyphs"><textPath href="#p1_270" startOffset="50%" textLength="78.36" lengthAdjust="spacingAndGlyphs">Body image</textPath></text>
<text text-anchor="middle" font-size="14.93" textLength="109.29" lengthAdjust="spacingAndGlyphs"><textPath href="#p1_306" startOffset="50%" textLength="109.29" lengthAdjust="spacingAndGlyphs">Sexual functions</textPath></text>
<text text-anchor="middle" font-size="14.93" textLength="60.63" lengthAdjust="spacingAndGlyphs"><textPath href="#p1_342" startOffset="50%" textLength="60.63" lengthAdjust="spacingAndGlyphs">Joint pain</textPath></text>
</g>
<g fill="none" stroke="#e5141c" stroke-linecap="round">
<path stroke-width="2.4" d="M434.03 873.61L482.01 943.71"/>
<path stroke-width="2.4" d="M488.93 962.24L496.71 1029.53"/>
<path stroke-width="2.4" d="M498.21 1049.83L500.79 1130.66"/>
<path stroke-width="2.4" d="M491.79 1144.94L425.87 1173.88"/>
<path stroke-width="2.4" d="M407.07 1181.71L329.91 1212.06"/>
<path stroke-width="2.4" d="M313.07 1208.75L249.44 1147.88"/>
<path stroke-width="2.4" d="M241.45 1130.67L236.37 1049.82"/>
<path stroke-width="2.4" d="M242 1031.62L278.63 984.69"/>
<path stroke-width="2.4" d="M289.84 967.75L321.72 910.23"/>
<path stroke-width="2.4" d="M336.25 897.91L418.68 868.62"/>
<circle cx="428.28" cy="865.21" r="10.19" stroke-width="3.3"/>
<circle cx="487.76" cy="952.12" r="10.19" stroke-width="3.3"/>
<circle cx="497.88" cy="1039.65" r="10.19" stroke-width="3.3"/>
<circle cx="501.12" cy="1140.84" r="10.19" stroke-width="3.3"/>
<circle cx="416.55" cy="1177.98" r="10.19" stroke-width="3.3"/>
<circle cx="320.43" cy="1215.79" r="10.19" stroke-width="3.3"/>
<circle cx="242.08" cy="1140.84" r="10.19" stroke-width="3.3"/>
<circle cx="235.74" cy="1039.65" r="10.19" stroke-width="3.3"/>
<circle cx="284.9" cy="976.66" r="10.19" stroke-width="3.3"/>
<circle cx="326.65" cy="901.32" r="10.19" stroke-width="3.3"/>
</g>
<path d="M1209.1 1036.4L1209.1 782.2A254.2 254.2 0 0 1 1358.52 830.75Z" fill="url(#g2_18)"/>
<path d="M1209.1 1036.4L1358.52 830.75A254.2 254.2 0 0 1 1450.86 957.85Z" fill="url(#g2_54)"/>
<path d="M1209.1 1036.4L1450.86 957.85A254.2 254.2 0 0 1 1450.3 1116.64Z" fill="url(#g2_90)"/>
<path d="M1209.1 1036.4L1450.3 1116.64A254.2 254.2 0 0 1 1357.44 1242.83Z" fill="url(#g2_126)"/>
<path d="M1209.1 1036.4L1357.44 1242.83A254.2 254.2 0 0 1 1213.09 1290.57Z" fill="url(#g2_162)"/>
<path d="M1209.1 1036.4L1213.09 1290.57A254.2 254.2 0 0 1 1060.04 1242.31Z" fill="url(#g2_198)"/>
<path d="M1209.1 1036.4L1060.04 1242.31A254.2 254.2 0 0 1 967.34 1114.95Z" fill="url(#g2_234)"/>
<path d="M1209.1 1036.4L967.34 1114.95A254.2 254.2 0 0 1 967.76 956.58Z" fill="url(#g2_270)"/>
<path d="M1209.1 1036.4L967.76 956.58A254.2 254.2 0 0 1 1060.04 830.49Z" fill="url(#g2_306)"/>
<path d="M1209.1 1036.4L1060.04 830.49A254.2 254.2 0 0 1 1209.1 782.2Z" fill="url(#g2_342)"/>
<g mask="url(#mk2)">
<path d="M1209.1 1036.4L1060.04 830.49A254.2 254.2 0 0 1 1209.1 782.2Z" fill="url(#t2_342)"/>
<path d="M1209.1 1036.4L1357.44 1242.83A254.2 254.2 0 0 1 1213.09 1290.57Z" fill="url(#t2_162)"/>
<path d="M1209.1 1036.4L1213.09 1290.57A254.2 254.2 0 0 1 1060.04 1242.31Z" fill="url(#t2_198)"/>
<path d="M1209.1 1036.4L1060.04 1242.31A254.2 254.2 0 0 1 967.34 1114.95Z" fill="url(#t2_234)"/>
<path d="M1209.1 1036.4L967.76 956.58A254.2 254.2 0 0 1 1060.04 830.49Z" fill="url(#t2_306)"/>
</g>
<g fill="none" stroke="#1e1e1e" stroke-opacity="0.82" stroke-width="1.15">
<circle cx="1209.1" cy="1036.4" r="16.15"/>
<circle cx="1209.1" cy="1036.4" r="38.22"/>
<circle cx="1209.1" cy="1036.4" r="59.37"/>
<circle cx="1209.1" cy="1036.4" r="79.4"/>
<circle cx="1209.1" cy="1036.4" r="99.02"/>
<circle cx="1209.1" cy="1036.4" r="118.13"/>
<circle cx="1209.1" cy="1036.4" r="137.75"/>
<circle cx="1209.1" cy="1036.4" r="156.97"/>
<circle cx="1209.1" cy="1036.4" r="176.08"/>
<circle cx="1209.1" cy="1036.4" r="195.59"/>
<circle cx="1209.1" cy="1036.4" r="215.42"/>
<circle cx="1209.1" cy="1036.4" r="234.63"/>
<circle cx="1209.1" cy="1036.4" r="253.8" stroke-width="1.5"/>
<path d="M1209.1 1036.4L1209.1 782.2"/>
<path d="M1209.1 1036.4L1358.52 830.75"/>
<path d="M1209.1 1036.4L1450.86 957.85"/>
<path d="M1209.1 1036.4L1450.3 1116.64"/>
<path d="M1209.1 1036.4L1357.44 1242.83"/>
<path d="M1209.1 1036.4L1213.09 1290.57"/>
<path d="M1209.1 1036.4L1060.04 1242.31"/>
<path d="M1209.1 1036.4L967.34 1114.95"/>
<path d="M1209.1 1036.4L967.76 956.58"/>
<path d="M1209.1 1036.4L1060.04 830.49"/>
</g>
<circle cx="1209.1" cy="1036.4" r="2.2" fill="#111"/>
<g font-family="'Liberation Sans', Arial, sans-serif" font-size="15.74" text-anchor="middle" fill="#000" fill-opacity="0.8" stroke="#000" stroke-opacity="0.5" stroke-width="0.3">
<text transform="translate(1217.5 1010.55) rotate(18)" y="5.67">0</text>
<text transform="translate(1224.18 989.99) rotate(18)" y="5.67">1</text>
<text transform="translate(1230.54 970.41) rotate(18)" y="5.67">2</text>
<text transform="translate(1236.67 951.55) rotate(18)" y="5.67">3</text>
<text transform="translate(1242.65 933.14) rotate(18)" y="5.67">4</text>
<text transform="translate(1248.64 914.72) rotate(18)" y="5.67">5</text>
<text transform="translate(1254.64 896.25) rotate(18)" y="5.67">6</text>
<text transform="translate(1260.56 878.03) rotate(18)" y="5.67">7</text>
<text transform="translate(1266.53 859.66) rotate(18)" y="5.67">8</text>
<text transform="translate(1272.6 840.95) rotate(18)" y="5.67">9</text>
<text transform="translate(1278.64 822.39) rotate(18)" y="5.67">10</text>
<text transform="translate(1230.81 1020.04) rotate(54)" y="5.67">0</text>
<text transform="translate(1248.07 1007.03) rotate(54)" y="5.67">1</text>
<text transform="translate(1264.52 994.64) rotate(54)" y="5.67">2</text>
<text transform="translate(1280.35 982.71) rotate(54)" y="5.67">3</text>
<text transform="translate(1295.81 971.06) rotate(54)" y="5.67">4</text>
<text transform="translate(1311.28 959.4) rotate(54)" y="5.67">5</text>
<text transform="translate(1326.79 947.72) rotate(54)" y="5.67">6</text>
<text transform="translate(1342.09 936.19) rotate(54)" y="5.67">7</text>
<text transform="translate(1357.51 924.56) rotate(54)" y="5.67">8</text>
<text transform="translate(1373.22 912.72) rotate(54)" y="5.67">9</text>
<text transform="translate(1388.81 900.98) rotate(54)" y="5.67">10</text>
<text transform="translate(1236.28 1036.4) rotate(90)" y="5.67" fill-opacity="0.55">0</text>
<text transform="translate(1257.9 1036.4) rotate(90)" y="5.67" fill-opacity="0.55">1</text>
<text transform="translate(1278.49 1036.4) rotate(90)" y="5.67" fill-opacity="0.55">2</text>
<text transform="translate(1298.31 1036.4) rotate(90)" y="5.67" fill-opacity="0.55">3</text>
<text transform="translate(1317.68 1036.4) rotate(90)" y="5.67" fill-opacity="0.55">4</text>
<text transform="translate(1337.04 1036.4) rotate(90)" y="5.67" fill-opacity="0.55">5</text>
<text transform="translate(1356.46 1036.4) rotate(90)" y="5.67" fill-opacity="0.55">6</text>
<text transform="translate(1375.62 1036.4) rotate(90)" y="5.67" fill-opacity="0.55">7</text>
<text transform="translate(1394.93 1036.4) rotate(90)" y="5.67" fill-opacity="0.55">8</text>
<text transform="translate(1414.61 1036.4) rotate(90)" y="5.67" fill-opacity="0.55">9</text>
<text transform="translate(1434.12 1036.4) rotate(90)" y="5.67" fill-opacity="0.55">10</text>
<text transform="translate(1230.52 1053.14) rotate(-54)" y="5.67">0</text>
<text transform="translate(1247.55 1066.44) rotate(-54)" y="5.67">1</text>
<text transform="translate(1263.78 1079.12) rotate(-54)" y="5.67">2</text>
<text transform="translate(1279.4 1091.32) rotate(-54)" y="5.67">3</text>
<text transform="translate(1294.66 1103.25) rotate(-54)" y="5.67">4</text>
<text transform="translate(1309.92 1115.17) rotate(-54)" y="5.67">5</text>
<text transform="translate(1325.22 1127.12) rotate(-54)" y="5.67">6</text>
<text transform="translate(1340.32 1138.92) rotate(-54)" y="5.67">7</text>
<text transform="translate(1355.54 1150.81) rotate(-54)" y="5.67">8</text>
<text transform="translate(1371.04 1162.92) rotate(-54)" y="5.67">9</text>
<text transform="translate(1386.42 1174.94) rotate(-54)" y="5.67">10</text>
<text transform="translate(1217.5 1062.25) rotate(-18)" y="5.67">0</text>
<text transform="translate(1224.18 1082.81) rotate(-18)" y="5.67">1</text>
<text transform="translate(1230.54 1102.39) rotate(-18)" y="5.67">2</text>
<text transform="translate(1236.67 1121.25) rotate(-18)" y="5.67">3</text>
<text transform="translate(1242.65 1139.66) rotate(-18)" y="5.67">4</text>
<text transform="translate(1248.64 1158.08) rotate(-18)" y="5.67">5</text>
<text transform="translate(1254.64 1176.55) rotate(-18)" y="5.67">6</text>
<text transform="translate(1260.56 1194.77) rotate(-18)" y="5.67">7</text>
<text transform="translate(1266.53 1213.14) rotate(-18)" y="5.67">8</text>
<text transform="translate(1272.6 1231.85) rotate(-18)" y="5.67">9</text>
<text transform="translate(1278.64 1250.41) rotate(-18)" y="5.67">10</text>
<text transform="translate(1201.52 1062.5) rotate(18)" y="5.67">0</text>
<text transform="translate(1195.49 1083.26) rotate(18)" y="5.67">1</text>
<text transform="translate(1189.74 1103.03) rotate(18)" y="5.67">2</text>
<text transform="translate(1184.21 1122.07) rotate(18)" y="5.67">3</text>
<text transform="translate(1178.81 1140.67) rotate(18)" y="5.67">4</text>
<text transform="translate(1173.41 1159.26) rotate(18)" y="5.67">5</text>
<text transform="translate(1167.99 1177.91) rotate(18)" y="5.67">6</text>
<text transform="translate(1162.64 1196.31) rotate(18)" y="5.67">7</text>
<text transform="translate(1157.25 1214.86) rotate(18)" y="5.67">8</text>
<text transform="translate(1151.77 1233.75) rotate(18)" y="5.67">9</text>
<text transform="translate(1146.32 1252.49) rotate(18)" y="5.67">10</text>
<text transform="translate(1187.68 1053.14) rotate(54)" y="5.67">0</text>
<text transform="translate(1170.65 1066.44) rotate(54)" y="5.67">1</text>
<text transform="translate(1154.42 1079.12) rotate(54)" y="5.67">2</text>
<text transform="translate(1138.8 1091.32) rotate(54)" y="5.67">3</text>
<text transform="translate(1123.54 1103.25) rotate(54)" y="5.67">4</text>
<text transform="translate(1108.28 1115.17) rotate(54)" y="5.67">5</text>
<text transform="translate(1092.98 1127.12) rotate(54)" y="5.67">6</text>
<text transform="translate(1077.88 1138.92) rotate(54)" y="5.67">7</text>
<text transform="translate(1062.66 1150.81) rotate(54)" y="5.67">8</text>
<text transform="translate(1047.16 1162.92) rotate(54)" y="5.67">9</text>
<text transform="translate(1031.78 1174.94) rotate(54)" y="5.67">10</text>
<text transform="translate(1181.92 1036.4) rotate(-90)" y="5.67" fill-opacity="0.55">0</text>
<text transform="translate(1160.3 1036.4) rotate(-90)" y="5.67" fill-opacity="0.55">1</text>
<text transform="translate(1139.71 1036.4) rotate(-90)" y="5.67" fill-opacity="0.55">2</text>
<text transform="translate(1119.89 1036.4) rotate(-90)" y="5.67" fill-opacity="0.55">3</text>
<text transform="translate(1100.52 1036.4) rotate(-90)" y="5.67" fill-opacity="0.55">4</text>
<text transform="translate(1081.16 1036.4) rotate(-90)" y="5.67" fill-opacity="0.55">5</text>
<text transform="translate(1061.74 1036.4) rotate(-90)" y="5.67" fill-opacity="0.55">6</text>
<text transform="translate(1042.58 1036.4) rotate(-90)" y="5.67" fill-opacity="0.55">7</text>
<text transform="translate(1023.27 1036.4) rotate(-90)" y="5.67" fill-opacity="0.55">8</text>
<text transform="translate(1003.59 1036.4) rotate(-90)" y="5.67" fill-opacity="0.55">9</text>
<text transform="translate(984.08 1036.4) rotate(-90)" y="5.67" fill-opacity="0.55">10</text>
<text transform="translate(1187.11 1020.42) rotate(-54)" y="5.67">0</text>
<text transform="translate(1169.62 1007.72) rotate(-54)" y="5.67">1</text>
<text transform="translate(1152.96 995.61) rotate(-54)" y="5.67">2</text>
<text transform="translate(1136.93 983.96) rotate(-54)" y="5.67">3</text>
<text transform="translate(1121.26 972.58) rotate(-54)" y="5.67">4</text>
<text transform="translate(1105.59 961.2) rotate(-54)" y="5.67">5</text>
<text transform="translate(1089.88 949.78) rotate(-54)" y="5.67">6</text>
<text transform="translate(1074.38 938.52) rotate(-54)" y="5.67">7</text>
<text transform="translate(1058.76 927.17) rotate(-54)" y="5.67">8</text>
<text transform="translate(1042.84 915.61) rotate(-54)" y="5.67">9</text>
<text transform="translate(1027.05 904.13) rotate(-54)" y="5.67">10</text>
<text transform="translate(1200.7 1010.55) rotate(-18)" y="5.67">0</text>
<text transform="translate(1194.02 989.99) rotate(-18)" y="5.67">1</text>
<text transform="translate(1187.66 970.41) rotate(-18)" y="5.67">2</text>
<text transform="translate(1181.53 951.55) rotate(-18)" y="5.67">3</text>
<text transform="translate(1175.55 933.14) rotate(-18)" y="5.67">4</text>
<text transform="translate(1169.56 914.72) rotate(-18)" y="5.67">5</text>
<text transform="translate(1163.56 896.25) rotate(-18)" y="5.67">6</text>
<text transform="translate(1157.64 878.03) rotate(-18)" y="5.67">7</text>
<text transform="translate(1151.67 859.66) rotate(-18)" y="5.67">8</text>
<text transform="translate(1145.6 840.95) rotate(-18)" y="5.67">9</text>
<text transform="translate(1139.56 822.39) rotate(-18)" y="5.67">10</text>
</g>
<g font-family="'Liberation Sans', Arial, sans-serif" font-size="15.12" fill="#000" fill-opacity="0.84" stroke="#000" stroke-opacity="0.4" stroke-width="0.25">
<text text-anchor="middle" font-size="15.12" textLength="102.79" lengthAdjust="spacingAndGlyphs"><textPath href="#p2_18" startOffset="50%" textLength="102.79" lengthAdjust="spacingAndGlyphs">Abdominal pain</textPath></text>
<text text-anchor="middle" font-size="14.1" textLength="128.89" lengthAdjust="spacingAndGlyphs"><textPath href="#p2_54" startOffset="50%" textLength="128.89" lengthAdjust="spacingAndGlyphs">Regulating defecation</textPath></text>
<text text-anchor="middle" font-size="12.88" textLength="135.84" lengthAdjust="spacingAndGlyphs"><textPath href="#p2_90" startOffset="50%" textLength="135.84" lengthAdjust="spacingAndGlyphs">Interpersonal interactions</textPath></text>
<text text-anchor="middle" font-size="15.12" textLength="137.78" lengthAdjust="spacingAndGlyphs"><textPath href="#p2_126" startOffset="50%" textLength="137.78" lengthAdjust="spacingAndGlyphs">Education and work</textPath></text>
<text text-anchor="middle" font-size="15.12" textLength="40.11" lengthAdjust="spacingAndGlyphs"><textPath href="#p2_162" startOffset="50%" textLength="40.11" lengthAdjust="spacingAndGlyphs">Sleep</textPath></text>
<text text-anchor="middle" font-size="13.9" textLength="44.4" lengthAdjust="spacingAndGlyphs"><textPath href="#p2_198" startOffset="50%" textLength="44.4" lengthAdjust="spacingAndGlyphs">Energy</textPath></text>
<text text-anchor="middle" font-size="15.12" textLength="63.22" lengthAdjust="spacingAndGlyphs"><textPath href="#p2_234" startOffset="50%" textLength="63.22" lengthAdjust="spacingAndGlyphs">Emotions</textPath></text>
<text text-anchor="middle" font-size="15.12" textLength="79.39" lengthAdjust="spacingAndGlyphs"><textPath href="#p2_270" startOffset="50%" textLength="79.39" lengthAdjust="spacingAndGlyphs">Body image</textPath></text>
<text text-anchor="middle" font-size="15.12" textLength="110.73" lengthAdjust="spacingAndGlyphs"><textPath href="#p2_306" startOffset="50%" textLength="110.73" lengthAdjust="spacingAndGlyphs">Sexual functions</textPath></text>
<text text-anchor="middle" font-size="15.12" textLength="61.42" lengthAdjust="spacingAndGlyphs"><textPath href="#p2_342" startOffset="50%" textLength="61.42" lengthAdjust="spacingAndGlyphs">Joint pain</textPath></text>
</g>
<g fill="none" stroke="#e5141c" stroke-linecap="round">
<path stroke-width="2.4" d="M1238.75 961.66L1245.99 996.92"/>
<path stroke-width="2.4" d="M1251.35 1016.82L1254.62 1026.61"/>
<path stroke-width="2.4" d="M1259.3 1046.62L1262.37 1068.89"/>
<path stroke-width="2.4" d="M1258.19 1087.8L1242.25 1112.57"/>
<path stroke-width="2.4" d="M1226.35 1121.41L1194.53 1121.91"/>
<path stroke-width="2.4" d="M1178.33 1113.59L1160.3 1087.6"/>
<path stroke-width="2.4" d="M1147.93 1071.09L1126.38 1044.43"/>
<path stroke-width="2.4" d="M1128.83 1031.24L1160.68 1012.87"/>
<path stroke-width="2.4" d="M1174.11 998.43L1183.17 979.7"/>
<path stroke-width="2.4" d="M1197.29 966.7L1227.04 955.26"/>
<circle cx="1236.67" cy="951.55" r="10.32" stroke-width="3.3"/>
<circle cx="1248.07" cy="1007.03" r="10.32" stroke-width="3.3"/>
<circle cx="1257.9" cy="1036.4" r="10.32" stroke-width="3.3"/>
<circle cx="1263.78" cy="1079.12" r="10.32" stroke-width="3.3"/>
<circle cx="1236.67" cy="1121.25" r="10.32" stroke-width="3.3"/>
<circle cx="1184.21" cy="1122.07" r="10.32" stroke-width="3.3"/>
<circle cx="1154.42" cy="1079.12" r="10.32" stroke-width="3.3"/>
<circle cx="1119.89" cy="1036.4" r="10.32" stroke-width="3.3"/>
<circle cx="1169.62" cy="1007.72" r="10.32" stroke-width="3.3"/>
<circle cx="1187.66" cy="970.41" r="10.32" stroke-width="3.3"/>
</g>
<path fill="#fa0f0f" d="M592.55 587.43L478.18 775.46L469.47 770.16L467.4 800.5L493.39 784.71L484.68 779.41L599.05 591.37Z"/>
<path fill="#fa0f0f" d="M987.26 585.08L1101.7 772.73L1092.99 778.04L1119 793.8L1116.89 763.46L1108.19 768.77L993.74 581.12Z"/>
<g font-family="'Liberation Sans', Arial, sans-serif" font-weight="bold" fill="#000">
<text transform="translate(481.6 749.3) rotate(-58.4)" font-size="21.6" textLength="181" lengthAdjust="spacingAndGlyphs">ACTIVE DISEASE</text>
<text transform="translate(1002.1 575.7) rotate(58.9)" font-size="21.8" textLength="207.5" lengthAdjust="spacingAndGlyphs">INACTIVE DISEASE</text>
<text x="644.5" y="764" font-size="21.6" textLength="274.8" lengthAdjust="spacingAndGlyphs">Post treatment follow up</text>
</g>
<g stroke="#b4b4b4" stroke-width="1.3" fill="none">
<path d="M1637.2 111.7L1645.2 111.7L1645.2 572.8L1637.2 572.8"/>
<path d="M1637.2 496.4L1645.2 496.4"/>
<path d="M1637.2 342.7L1645.2 342.7"/>
<path d="M1637.2 189L1645.2 189"/>
<path d="M1704 603.6L1704 596.6L1948.2 596.6L1948.2 603.6"/>
</g>
<g font-family="'Liberation Sans', Arial, sans-serif" fill="#2e2e2e">
<text x="1631.2" y="502.1" font-size="15.6" text-anchor="end">0</text>
<text x="1631.2" y="348.4" font-size="15.6" text-anchor="end">5</text>
<text x="1631.2" y="194.7" font-size="15.6" text-anchor="end">10</text>
<text x="1704.3" y="621.8" font-size="15.4" text-anchor="middle" textLength="58.4" lengthAdjust="spacingAndGlyphs">Baseline</text>
<text x="1948" y="621.8" font-size="15.4" text-anchor="middle" textLength="164.5" lengthAdjust="spacingAndGlyphs">Post treatment follow up</text>
<text x="1777.4" y="651.2" font-size="17.6" textLength="508.2" lengthAdjust="spacingAndGlyphs">IBD Disk 'Emotions' domain score - Active disease at follow up</text>
</g>
<g stroke="#bdbdbd" stroke-width="1" stroke-opacity="0.85" fill="none">
<path d="M1718.6 189L1952.5 219.74"/>
<path d="M1728.6 189L1968.5 250.48"/>
<path d="M1714.2 219.74L1926 189"/>
<path d="M1692.2 219.74L1928.3 189"/>
<path d="M1685.9 219.74L1966.6 342.7"/>
<path d="M1722.2 250.48L1950.2 189"/>
<path d="M1686.8 250.48L1944.5 250.48"/>
<path d="M1716.2 250.48L1966 281.22"/>
<path d="M1713.8 250.48L1943.1 281.22"/>
<path d="M1685.4 250.48L1935.3 342.7"/>
<path d="M1693.1 281.22L1960.7 219.74"/>
<path d="M1726.1 281.22L1929.4 250.48"/>
<path d="M1687.2 281.22L1953.6 281.22"/>
<path d="M1679.7 281.22L1947.7 311.96"/>
<path d="M1715.6 311.96L1923.7 311.96"/>
<path d="M1707.3 311.96L1949.7 281.22"/>
<path d="M1694.3 311.96L1951.4 250.48"/>
<path d="M1692.9 311.96L1955.9 250.48"/>
<path d="M1728.2 342.7L1953.2 189"/>
<path d="M1707.3 342.7L1954.9 496.4"/>
<path d="M1702.7 373.44L1923.9 281.22"/>
<path d="M1720.6 373.44L1935.8 404.18"/>
<path d="M1711 373.44L1968.5 404.18"/>
<path d="M1720.1 404.18L1936.7 373.44"/>
<path d="M1710.3 404.18L1967.4 281.22"/>
<path d="M1682.4 465.66L1954.9 496.4"/>
</g>
<g fill="#1b9e77">
<circle cx="1718.6" cy="189" r="3.5"/>
<circle cx="1728.6" cy="189" r="3.5"/>
<circle cx="1714.2" cy="219.74" r="3.5"/>
<circle cx="1692.2" cy="219.74" r="3.5"/>
<circle cx="1685.9" cy="219.74" r="3.5"/>
<circle cx="1722.2" cy="250.48" r="3.5"/>
<circle cx="1686.8" cy="250.48" r="3.5"/>
<circle cx="1716.2" cy="250.48" r="3.5"/>
<circle cx="1713.8" cy="250.48" r="3.5"/>
<circle cx="1685.4" cy="250.48" r="3.5"/>
<circle cx="1693.1" cy="281.22" r="3.5"/>
<circle cx="1726.1" cy="281.22" r="3.5"/>
<circle cx="1687.2" cy="281.22" r="3.5"/>
<circle cx="1679.7" cy="281.22" r="3.5"/>
<circle cx="1715.6" cy="311.96" r="3.5"/>
<circle cx="1707.3" cy="311.96" r="3.5"/>
<circle cx="1694.3" cy="311.96" r="3.5"/>
<circle cx="1692.9" cy="311.96" r="3.5"/>
<circle cx="1728.2" cy="342.7" r="3.5"/>
<circle cx="1707.3" cy="342.7" r="3.5"/>
<circle cx="1702.7" cy="373.44" r="3.5"/>
<circle cx="1720.6" cy="373.44" r="3.5"/>
<circle cx="1711" cy="373.44" r="3.5"/>
<circle cx="1720.1" cy="404.18" r="3.5"/>
<circle cx="1710.3" cy="404.18" r="3.5"/>
<circle cx="1682.4" cy="465.66" r="3.5"/>
</g><g fill="#d95f02">
<circle cx="1926" cy="189" r="3.5"/>
<circle cx="1928.3" cy="189" r="3.5"/>
<circle cx="1950.2" cy="189" r="3.5"/>
<circle cx="1953.2" cy="189" r="3.5"/>
<circle cx="1952.5" cy="219.74" r="3.5"/>
<circle cx="1960.7" cy="219.74" r="3.5"/>
<circle cx="1968.5" cy="250.48" r="3.5"/>
<circle cx="1944.5" cy="250.48" r="3.5"/>
<circle cx="1929.4" cy="250.48" r="3.5"/>
<circle cx="1951.4" cy="250.48" r="3.5"/>
<circle cx="1955.9" cy="250.48" r="3.5"/>
<circle cx="1960.3" cy="250.48" r="3.5"/>
<circle cx="1966" cy="281.22" r="3.5"/>
<circle cx="1943.1" cy="281.22" r="3.5"/>
<circle cx="1953.6" cy="281.22" r="3.5"/>
<circle cx="1949.7" cy="281.22" r="3.5"/>
<circle cx="1923.9" cy="281.22" r="3.5"/>
<circle cx="1967.4" cy="281.22" r="3.5"/>
<circle cx="1947.7" cy="311.96" r="3.5"/>
<circle cx="1923.7" cy="311.96" r="3.5"/>
<circle cx="1966.6" cy="342.7" r="3.5"/>
<circle cx="1935.3" cy="342.7" r="3.5"/>
<circle cx="1936.7" cy="373.44" r="3.5"/>
<circle cx="1935.8" cy="404.18" r="3.5"/>
<circle cx="1968.5" cy="404.18" r="3.5"/>
<circle cx="1954.9" cy="496.4" r="3.5"/>
</g>
<g stroke="#383838" stroke-width="2" fill="none">
<path d="M2066.2 189L2066.2 250.48M2066.2 342.7L2066.2 465.66M2053.9 189L2078.5 189M2053.9 465.66L2078.5 465.66"/>
<rect x="2041.5" y="250.48" width="49.4" height="92.22" fill="#1b9e77" stroke-width="1.5"/>
<path d="M2041.5 281.22L2090.9 281.22" stroke-width="3.8"/>
</g>
<g stroke="#383838" stroke-width="2" fill="none">
<path d="M2163.7 189L2163.7 250.48M2163.7 319.64L2163.7 404.18M2151.4 189L2176 189M2151.4 404.18L2176 404.18"/>
<rect x="2139" y="250.48" width="49.4" height="69.16" fill="#d95f02" stroke-width="1.5"/>
<path d="M2139 281.22L2188.4 281.22" stroke-width="3.8"/>
</g>
<path d="M2064.6 178.6L2065 170.71Q2065.4 166.21 2070.1 166.21L2110.8 166.21Q2114.1 166.21 2114.4 154.3Q2114.7 166.21 2118 166.21L2158.1 166.21Q2162.8 166.21 2163.2 170.71L2163.6 178.6" fill="none" stroke="#000" stroke-width="3.5" stroke-linejoin="miter"/>
<text x="2118.7" y="145.6" font-family="'DejaVu Sans', Verdana, sans-serif" font-size="21.2" text-anchor="middle" fill="#111" textLength="90.5" lengthAdjust="spacingAndGlyphs" xml:space="preserve">p = 0.71</text>
<path d="M2261.54 113.41C2261.71 115.69 2261.54 121.95 2262.56 127.06C2263.58 132.18 2264.72 138.44 2267.68 144.13C2270.64 149.82 2275.47 155.51 2280.31 161.19C2285.14 166.88 2291.34 172.57 2296.69 178.26C2302.04 183.95 2307.27 189.64 2312.39 195.32C2317.51 201.01 2322.91 207.27 2327.41 212.39C2331.9 217.51 2335.94 221.49 2339.35 226.04C2342.76 230.59 2345.78 235.14 2347.88 239.69C2349.99 244.24 2351.13 248.79 2351.98 253.34C2352.83 257.9 2353.06 262.45 2353 267C2352.95 271.55 2352.38 276.1 2351.64 280.65C2350.9 285.2 2349.48 290.77 2348.57 294.3C2347.66 297.83 2347.54 298.4 2346.18 301.81C2344.81 305.22 2342.48 309.77 2340.38 314.78C2338.27 319.78 2335.88 326.15 2333.55 331.84C2331.22 337.53 2328.89 343.22 2326.38 348.91C2323.88 354.6 2321.32 360.28 2318.53 365.97C2315.75 371.66 2312.84 377.35 2309.66 383.04C2306.47 388.73 2302.89 394.41 2299.42 400.1C2295.95 405.79 2292.2 411.48 2288.84 417.17C2285.48 422.86 2281.9 428.54 2279.28 434.23C2276.67 439.92 2274.68 445.61 2273.14 451.3C2271.6 456.99 2271.15 462.67 2270.07 468.36C2268.99 474.05 2267.62 479.74 2266.66 485.43C2265.69 491.11 2264.89 496.8 2264.27 502.49C2263.64 508.18 2263.24 513.87 2262.9 519.56C2262.56 525.24 2262.45 528.66 2262.22 536.62C2261.99 544.58 2261.65 562.22 2261.54 567.34Z" fill="#1b9e77" fill-opacity="0.5" stroke="#2a2a2a" stroke-opacity="0.85" stroke-width="1.1" stroke-linejoin="round"/>
<path d="M2261.54 113.41C2261.71 115.69 2261.54 121.95 2262.56 127.06C2263.58 132.18 2264.27 138.44 2267.68 144.13C2271.09 149.82 2276.5 155.51 2283.04 161.19C2289.58 166.88 2301.41 173.71 2306.93 178.26C2312.45 182.81 2313.58 185.09 2316.14 188.5C2318.7 191.91 2319.56 194.76 2322.29 198.74C2325.02 202.72 2328.54 207.27 2332.53 212.39C2336.51 217.51 2340.77 223.77 2346.18 229.45C2351.58 235.14 2359.83 241.97 2364.95 246.52C2370.07 251.07 2373.88 253.23 2376.89 256.76C2379.91 260.28 2382.87 263.7 2383.04 267.68C2383.21 271.66 2381.22 276.78 2377.92 280.65C2374.62 284.52 2368.25 287.76 2363.24 290.89C2358.24 294.02 2353.86 296.58 2347.88 299.42C2341.91 302.26 2332.81 305.39 2327.41 307.95C2322 310.51 2319.9 310.8 2315.46 314.78C2311.02 318.76 2304.25 326.15 2300.78 331.84C2297.32 337.53 2296.06 343.22 2294.64 348.91C2293.22 354.6 2292.94 360.28 2292.25 365.97C2291.57 371.66 2291.51 377.35 2290.55 383.04C2289.58 388.73 2288.56 394.41 2286.45 400.1C2284.35 405.79 2280.42 411.48 2277.92 417.17C2275.42 422.86 2272.91 428.54 2271.43 434.23C2269.95 439.92 2269.1 446.18 2269.04 451.3C2268.99 456.42 2270.13 461.25 2271.09 464.95C2272.06 468.65 2273.2 470.07 2274.85 473.48C2276.5 476.89 2279.62 481.73 2280.99 485.43C2282.35 489.12 2282.98 492.25 2283.04 495.67C2283.09 499.08 2282.7 501.92 2281.33 505.9C2279.97 509.89 2277.29 514.44 2274.85 519.56C2272.4 524.68 2268.65 530.93 2266.66 536.62C2264.66 542.31 2263.75 548.57 2262.9 553.69C2262.05 558.81 2261.76 565.06 2261.54 567.34Z" fill="#d95f02" fill-opacity="0.5" stroke="#2a2a2a" stroke-opacity="0.85" stroke-width="1.1" stroke-linejoin="round"/>
<g stroke="#b4b4b4" stroke-width="1.3" fill="none">
<path d="M1632.2 761.3L1640.2 761.3L1640.2 1211.4L1632.2 1211.4"/>
<path d="M1632.2 1118.7L1640.2 1118.7"/>
<path d="M1632.2 986.35L1640.2 986.35"/>
<path d="M1632.2 854L1640.2 854"/>
<path d="M1691.4 1241.3L1691.4 1234.3L1944.3 1234.3L1944.3 1241.3"/>
</g>
<g font-family="'Liberation Sans', Arial, sans-serif" fill="#2e2e2e">
<text x="1626.2" y="1124.4" font-size="15.6" text-anchor="end">0</text>
<text x="1626.2" y="992.05" font-size="15.6" text-anchor="end">5</text>
<text x="1626.2" y="859.7" font-size="15.6" text-anchor="end">10</text>
<text x="1691.7" y="1259.5" font-size="15.4" text-anchor="middle" textLength="58.4" lengthAdjust="spacingAndGlyphs">Baseline</text>
<text x="1944.1" y="1259.5" font-size="15.4" text-anchor="middle" textLength="164.5" lengthAdjust="spacingAndGlyphs">Post treatment follow up</text>
<text x="1774" y="1289" font-size="17.6" textLength="521" lengthAdjust="spacingAndGlyphs">IBD disk 'Emotions' domain score - Inactive disease at follow up</text>
</g>
<g stroke="#bdbdbd" stroke-width="1" stroke-opacity="0.85" fill="none">
<path d="M1692.72 854L1963.06 1065.76"/>
<path d="M1691.3 854L1946.36 1118.7"/>
<path d="M1709.41 880.47L1950.27 933.41"/>
<path d="M1685.26 880.47L1918.29 1012.82"/>
<path d="M1679.57 880.47L1922.91 1012.82"/>
<path d="M1696.63 880.47L1935.7 1118.7"/>
<path d="M1714.39 906.94L1920.78 906.94"/>
<path d="M1712.26 906.94L1958.79 933.41"/>
<path d="M1703.37 906.94L1939.25 959.88"/>
<path d="M1695.91 906.94L1948.13 959.88"/>
<path d="M1693.07 906.94L1932.86 1012.82"/>
<path d="M1696.98 933.41L1955.6 986.35"/>
<path d="M1691.3 959.88L1931.44 986.35"/>
<path d="M1711.19 986.35L1941.39 1065.76"/>
<path d="M1698.4 986.35L1928.6 1092.23"/>
<path d="M1690.94 986.35L1945.65 1092.23"/>
<path d="M1676.73 986.35L1957.73 1118.7"/>
<path d="M1675.31 986.35L1929.66 1118.7"/>
<path d="M1704.09 1065.76L1946.36 1065.76"/>
<path d="M1712.26 1118.7L1923.98 1118.7"/>
<path d="M1707.28 1118.7L1926.82 1118.7"/>
</g>
<g fill="#1b9e77">
<circle cx="1692.72" cy="854" r="3.5"/>
<circle cx="1691.3" cy="854" r="3.5"/>
<circle cx="1709.41" cy="880.47" r="3.5"/>
<circle cx="1685.26" cy="880.47" r="3.5"/>
<circle cx="1679.57" cy="880.47" r="3.5"/>
<circle cx="1696.63" cy="880.47" r="3.5"/>
<circle cx="1714.39" cy="906.94" r="3.5"/>
<circle cx="1712.26" cy="906.94" r="3.5"/>
<circle cx="1703.37" cy="906.94" r="3.5"/>
<circle cx="1695.91" cy="906.94" r="3.5"/>
<circle cx="1693.07" cy="906.94" r="3.5"/>
<circle cx="1696.98" cy="933.41" r="3.5"/>
<circle cx="1691.3" cy="959.88" r="3.5"/>
<circle cx="1711.19" cy="986.35" r="3.5"/>
<circle cx="1698.4" cy="986.35" r="3.5"/>
<circle cx="1690.94" cy="986.35" r="3.5"/>
<circle cx="1676.73" cy="986.35" r="3.5"/>
<circle cx="1675.31" cy="986.35" r="3.5"/>
<circle cx="1704.09" cy="1065.76" r="3.5"/>
<circle cx="1712.26" cy="1118.7" r="3.5"/>
<circle cx="1707.28" cy="1118.7" r="3.5"/>
</g><g fill="#d95f02">
<circle cx="1920.78" cy="906.94" r="3.5"/>
<circle cx="1950.27" cy="933.41" r="3.5"/>
<circle cx="1958.79" cy="933.41" r="3.5"/>
<circle cx="1939.25" cy="959.88" r="3.5"/>
<circle cx="1948.13" cy="959.88" r="3.5"/>
<circle cx="1955.6" cy="986.35" r="3.5"/>
<circle cx="1931.44" cy="986.35" r="3.5"/>
<circle cx="1918.29" cy="1012.82" r="3.5"/>
<circle cx="1922.91" cy="1012.82" r="3.5"/>
<circle cx="1932.86" cy="1012.82" r="3.5"/>
<circle cx="1963.06" cy="1065.76" r="3.5"/>
<circle cx="1941.39" cy="1065.76" r="3.5"/>
<circle cx="1946.36" cy="1065.76" r="3.5"/>
<circle cx="1928.6" cy="1092.23" r="3.5"/>
<circle cx="1945.65" cy="1092.23" r="3.5"/>
<circle cx="1946.36" cy="1118.7" r="3.5"/>
<circle cx="1935.7" cy="1118.7" r="3.5"/>
<circle cx="1957.73" cy="1118.7" r="3.5"/>
<circle cx="1929.66" cy="1118.7" r="3.5"/>
<circle cx="1923.98" cy="1118.7" r="3.5"/>
<circle cx="1926.82" cy="1118.7" r="3.5"/>
</g>
<g stroke="#383838" stroke-width="2" fill="none">
<path d="M2064.6 854L2064.6 880.47M2064.6 986.35L2064.6 1118.7M2052.3 854L2076.9 854M2052.3 1118.7L2076.9 1118.7"/>
<rect x="2039" y="880.47" width="51.2" height="105.88" fill="#1b9e77" stroke-width="1.5"/>
<path d="M2039 906.94L2090.2 906.94" stroke-width="3.8"/>
</g>
<g stroke="#383838" stroke-width="2" fill="none">
<path d="M2165.6 906.94L2165.6 986.35M2165.6 1092.23L2165.6 1118.7M2153.3 906.94L2177.9 906.94M2153.3 1118.7L2177.9 1118.7"/>
<rect x="2140" y="986.35" width="51.2" height="105.88" fill="#d95f02" stroke-width="1.5"/>
<path d="M2140 1065.76L2191.2 1065.76" stroke-width="3.8"/>
</g>
<path d="M2058.5 839.6L2058.9 832.17Q2059.3 827.67 2064 827.67L2104.4 827.67Q2107.7 827.67 2108 816.2Q2108.3 827.67 2111.6 827.67L2150.1 827.67Q2154.8 827.67 2155.2 832.17L2155.6 839.6" fill="none" stroke="#000" stroke-width="3.5" stroke-linejoin="miter"/>
<text x="2109.3" y="806.6" font-family="'DejaVu Sans', Verdana, sans-serif" font-size="21.2" text-anchor="middle" fill="#111" textLength="83.5" lengthAdjust="spacingAndGlyphs" xml:space="preserve">p &lt;.001</text>
<path d="M2267.68 761.26C2267.96 763.94 2267.51 771.79 2269.39 777.3C2271.26 782.82 2275.24 789.25 2278.94 794.37C2282.64 799.49 2287.47 804.04 2291.57 808.02C2295.67 812 2299.25 814.85 2303.52 818.26C2307.78 821.67 2312.33 825.09 2317.17 828.5C2322 831.91 2327.41 835.32 2332.53 838.74C2337.65 842.15 2342.76 845.56 2347.88 848.98C2353 852.39 2358.58 855.8 2363.24 859.22C2367.91 862.63 2372.17 866.04 2375.87 869.45C2379.57 872.87 2382.81 876.28 2385.43 879.69C2388.04 883.11 2390.26 886.52 2391.57 889.93C2392.88 893.34 2393.28 896.76 2393.28 900.17C2393.28 903.58 2392.59 907 2391.57 910.41C2390.55 913.82 2388.84 917.24 2387.13 920.65C2385.43 924.06 2383.44 927.47 2381.33 930.89C2379.23 934.3 2377.24 937.14 2374.51 941.13C2371.77 945.11 2367.68 950.23 2364.95 954.78C2362.22 959.33 2359.94 964.56 2358.12 968.43C2356.3 972.3 2356.02 974.57 2354.03 977.99C2352.04 981.4 2350.05 984.24 2346.18 988.91C2342.31 993.57 2336.11 1000.28 2330.82 1005.97C2325.53 1011.66 2319.44 1017.06 2314.44 1023.04C2309.43 1029.01 2303.97 1035.55 2300.78 1041.81C2297.6 1048.07 2296.41 1054.61 2295.32 1060.58C2294.24 1066.55 2294.36 1071.96 2294.3 1077.65C2294.24 1083.33 2295.15 1089.02 2294.98 1094.71C2294.81 1100.4 2294.07 1106.09 2293.28 1111.77C2292.48 1117.46 2291.57 1123.15 2290.2 1128.84C2288.84 1134.53 2286.91 1140.22 2285.09 1145.9C2283.27 1151.59 2281.22 1157.28 2279.28 1162.97C2277.35 1168.66 2275.07 1174.63 2273.48 1180.03C2271.89 1185.44 2270.69 1190.16 2269.73 1195.39C2268.76 1200.63 2268.02 1208.76 2267.68 1211.43Z" fill="#1b9e77" fill-opacity="0.5" stroke="#2a2a2a" stroke-opacity="0.85" stroke-width="1.1" stroke-linejoin="round"/>
<path d="M2267.68 761.26C2267.68 772.47 2267.11 815.02 2267.68 828.5C2268.25 841.98 2269.39 837.03 2271.09 842.15C2272.8 847.27 2275.24 853.81 2277.92 859.22C2280.59 864.62 2283.72 869.74 2287.13 874.57C2290.55 879.41 2294.53 883.39 2298.4 888.23C2302.26 893.06 2306.08 898.18 2310.34 903.58C2314.61 908.99 2319.73 914.96 2323.99 920.65C2328.26 926.34 2332.53 932.03 2335.94 937.71C2339.35 943.4 2341.91 949.09 2344.47 954.78C2347.03 960.47 2349.7 966.72 2351.3 971.84C2352.89 976.96 2353.46 980.38 2354.03 985.49C2354.6 990.61 2354.48 996.87 2354.71 1002.56C2354.94 1008.25 2354.82 1014.51 2355.39 1019.62C2355.96 1024.74 2356.53 1028.16 2358.12 1033.28C2359.72 1038.4 2362.39 1045.22 2364.95 1050.34C2367.51 1055.46 2370.92 1059.44 2373.48 1063.99C2376.04 1068.54 2378.71 1073.09 2380.31 1077.65C2381.9 1082.2 2383.04 1086.75 2383.04 1091.3C2383.04 1095.85 2382.18 1100.4 2380.31 1104.95C2378.43 1109.5 2375.47 1114.51 2371.77 1118.6C2368.08 1122.7 2363.81 1125.54 2358.12 1129.52C2352.43 1133.5 2344.47 1138.51 2337.65 1142.49C2330.82 1146.47 2323.42 1149.89 2317.17 1153.41C2310.91 1156.94 2305.22 1160.07 2300.1 1163.65C2294.98 1167.24 2290.43 1170.76 2286.45 1174.91C2282.47 1179.07 2278.94 1184.19 2276.21 1188.57C2273.48 1192.95 2271.49 1197.38 2270.07 1201.19C2268.65 1205.01 2268.08 1209.73 2267.68 1211.43Z" fill="#d95f02" fill-opacity="0.5" stroke="#2a2a2a" stroke-opacity="0.85" stroke-width="1.1" stroke-linejoin="round"/>
</svg>
</body>
</html>
